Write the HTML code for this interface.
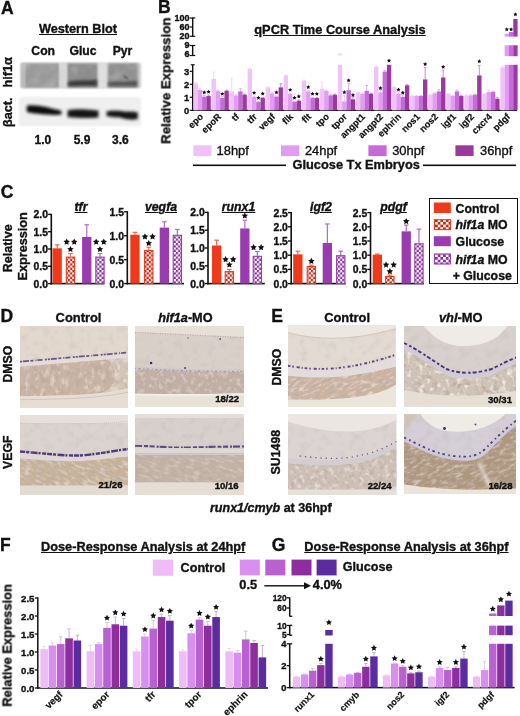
<!DOCTYPE html>
<html><head><meta charset="utf-8"><style>
html,body{margin:0;padding:0;background:#fff;}
body{width:520px;height:716px;position:relative;overflow:hidden;font-family:"Liberation Sans", sans-serif;}
.t{position:absolute;white-space:nowrap;line-height:1;color:#111;-webkit-text-stroke:0.35px #111;}
#wrap{position:absolute;left:0;top:0;width:520px;height:716px;will-change:transform;}
svg path[stroke]{fill:none;}
</style></head><body><div id="wrap">
<div class="t" style="left:1.00px;top:-0.40px;font-size:17.5px;font-weight:bold;font-style:normal;color:#111;">A</div>
<div class="t" style="left:-122.00px;width:400px;text-align:center;top:23.47px;font-size:12.7px;font-weight:bold;font-style:normal;color:#111;"><u>Western Blot</u></div>
<div class="t" style="left:-156.80px;width:400px;text-align:center;top:45.05px;font-size:12.2px;font-weight:bold;font-style:normal;color:#111;">Con</div>
<div class="t" style="left:-117.00px;width:400px;text-align:center;top:45.05px;font-size:12.2px;font-weight:bold;font-style:normal;color:#111;">Gluc</div>
<div class="t" style="left:-77.50px;width:400px;text-align:center;top:45.05px;font-size:12.2px;font-weight:bold;font-style:normal;color:#111;">Pyr</div>
<div class="t" style="left:-157.10px;width:400px;text-align:center;top:134.08px;font-size:12px;font-weight:bold;font-style:normal;color:#111;">1.0</div>
<div class="t" style="left:-118.00px;width:400px;text-align:center;top:134.08px;font-size:12px;font-weight:bold;font-style:normal;color:#111;">5.9</div>
<div class="t" style="left:-79.60px;width:400px;text-align:center;top:134.08px;font-size:12px;font-weight:bold;font-style:normal;color:#111;">3.6</div>
<div class="t" style="left:-192.38px;top:65.65px;width:400px;text-align:center;font-size:12.7px;font-weight:bold;color:#111;transform:rotate(-90deg);transform-origin:50% 50%;">hif1&alpha;</div>
<div class="t" style="left:-192.42px;top:106.20px;width:400px;text-align:center;font-size:12.6px;font-weight:bold;color:#111;transform:rotate(-90deg);transform-origin:50% 50%;">&beta;act.</div>
<svg style="position:absolute;left:0;top:0" width="160" height="135" viewBox="0 0 160 135">
<defs>
<filter id="b1" x="-20%" y="-50%" width="140%" height="200%"><feGaussianBlur stdDeviation="1.0"/></filter>
<filter id="b2" x="-20%" y="-80%" width="140%" height="260%"><feGaussianBlur stdDeviation="1.5"/></filter>
<filter id="n1" x="0" y="0" width="100%" height="100%"><feTurbulence type="fractalNoise" baseFrequency="0.1" numOctaves="2" seed="3"/><feColorMatrix type="matrix" values="0 0 0 0 0.45  0 0 0 0 0.45  0 0 0 0 0.45  2.0 0 0 0 -0.95"/><feComposite in2="SourceGraphic" operator="in"/><feGaussianBlur stdDeviation="1.0"/></filter>
<filter id="n2" x="0" y="0" width="100%" height="100%"><feTurbulence type="fractalNoise" baseFrequency="0.1" numOctaves="2" seed="9"/><feColorMatrix type="matrix" values="0 0 0 0 0.85  0 0 0 0 0.85  0 0 0 0 0.85  0 2.0 0 0 -0.95"/><feComposite in2="SourceGraphic" operator="in"/><feGaussianBlur stdDeviation="1.0"/></filter>
</defs>
<rect x="20.5" y="63" width="120.5" height="25" fill="#cacaca" filter="url(#b1)"/>
<rect x="24.5" y="63.3" width="34.5" height="24.4" fill="#9a9a9a" filter="url(#b1)"/>
<rect x="21" y="63.3" width="4" height="24.4" fill="#bababa" filter="url(#b1)"/>
<rect x="67.3" y="63.3" width="30.2" height="24.4" fill="#8c8c8c" filter="url(#b1)"/>
<rect x="107.6" y="63.3" width="30" height="24.4" fill="#909090" filter="url(#b1)"/>
<rect x="21" y="63.3" width="117" height="24.4" fill="#fff" filter="url(#n1)" opacity="0.45"/>
<rect x="59.6" y="63" width="7.2" height="25" fill="#d8d8d8" filter="url(#b1)"/>
<rect x="98.3" y="63" width="8.6" height="25" fill="#dedede" filter="url(#b1)"/>
<rect x="21" y="63.3" width="117" height="24.4" fill="#fff" filter="url(#n2)" opacity="0.3"/>
<path d="M68,82 C75,79.5 85,81 97,79.5 L97,86 L68,86 Z" fill="#383838" filter="url(#b2)"/>
<path d="M108,82.5 C115,81.5 125,82 137,81 L137,86 L108,86 Z" fill="#505050" filter="url(#b2)"/>
<path d="M123.5,75.5 L128,79" stroke="#333" stroke-width="1.4" filter="url(#b1)"/>
<rect x="19" y="97" width="122" height="29" fill="#efefef" filter="url(#b1)"/>
<path d="M27,105.5 C35,104.5 45,106.5 52,108.5 C56,109.5 60,110 61.5,111 L61.5,114.5 C55,115.5 45,114.5 35,113.5 C30,113 27.5,112.5 26.5,111 Z" fill="#111" filter="url(#b2)"/>
<path d="M67.5,110.5 C75,108.5 85,109.5 98.5,110.5 L98.5,117.5 C88,118.5 76,118 67.5,117 Z" fill="#141414" filter="url(#b2)"/>
<path d="M106.5,111.5 C112,110 118,110.5 125,111.5 C131,111.5 136,111.5 137.8,112.5 L137.8,119 C132,120.5 126,119.5 120,117.5 C114,117 109,117 106.5,116 Z" fill="#121212" filter="url(#b2)"/>
</svg>
<div class="t" style="left:158.00px;top:-0.60px;font-size:17.5px;font-weight:bold;font-style:normal;color:#111;">B</div>
<div class="t" style="left:140.00px;width:400px;text-align:center;top:23.85px;font-size:12.8px;font-weight:bold;font-style:normal;color:#111;"><u>qPCR Time Course Analysis</u></div>
<div class="t" style="left:-34.28px;top:74.35px;width:400px;text-align:center;font-size:13.3px;font-weight:bold;color:#111;transform:rotate(-90deg);transform-origin:50% 50%;">Relative Expression</div>
<div class="t" style="left:-210.70px;width:400px;text-align:right;top:105.90px;font-size:9.4px;font-weight:bold;font-style:normal;color:#111;">0</div>
<div class="t" style="left:-210.70px;width:400px;text-align:right;top:92.90px;font-size:9.4px;font-weight:bold;font-style:normal;color:#111;">1</div>
<div class="t" style="left:-210.70px;width:400px;text-align:right;top:79.90px;font-size:9.4px;font-weight:bold;font-style:normal;color:#111;">2</div>
<div class="t" style="left:-210.70px;width:400px;text-align:right;top:66.90px;font-size:9.4px;font-weight:bold;font-style:normal;color:#111;">3</div>
<div class="t" style="left:-210.60px;width:400px;text-align:right;top:41.26px;font-size:9px;font-weight:bold;font-style:normal;color:#111;">9</div>
<div class="t" style="left:-210.60px;width:400px;text-align:right;top:50.16px;font-size:9px;font-weight:bold;font-style:normal;color:#111;">6</div>
<div class="t" style="left:-210.60px;width:400px;text-align:right;top:13.56px;font-size:9px;font-weight:bold;font-style:normal;color:#111;">100</div>
<div class="t" style="left:-210.60px;width:400px;text-align:right;top:22.96px;font-size:9px;font-weight:bold;font-style:normal;color:#111;">60</div>
<div class="t" style="left:-210.60px;width:400px;text-align:right;top:32.16px;font-size:9px;font-weight:bold;font-style:normal;color:#111;">20</div>
<div class="t" style="left:101.90px;top:111.45px;width:100px;text-align:right;font-size:9.3px;font-weight:bold;font-style:normal;transform:rotate(-45deg);transform-origin:100% 50%;-webkit-text-stroke:0.2px #111;">epo</div>
<div class="t" style="left:119.95px;top:111.45px;width:100px;text-align:right;font-size:9.3px;font-weight:bold;font-style:normal;transform:rotate(-45deg);transform-origin:100% 50%;-webkit-text-stroke:0.2px #111;">epoR</div>
<div class="t" style="left:138.00px;top:111.45px;width:100px;text-align:right;font-size:9.3px;font-weight:bold;font-style:normal;transform:rotate(-45deg);transform-origin:100% 50%;-webkit-text-stroke:0.2px #111;">tf</div>
<div class="t" style="left:156.05px;top:111.45px;width:100px;text-align:right;font-size:9.3px;font-weight:bold;font-style:normal;transform:rotate(-45deg);transform-origin:100% 50%;-webkit-text-stroke:0.2px #111;">tfr</div>
<div class="t" style="left:174.10px;top:111.45px;width:100px;text-align:right;font-size:9.3px;font-weight:bold;font-style:normal;transform:rotate(-45deg);transform-origin:100% 50%;-webkit-text-stroke:0.2px #111;">vegf</div>
<div class="t" style="left:192.15px;top:111.45px;width:100px;text-align:right;font-size:9.3px;font-weight:bold;font-style:normal;transform:rotate(-45deg);transform-origin:100% 50%;-webkit-text-stroke:0.2px #111;">flk</div>
<div class="t" style="left:210.20px;top:111.45px;width:100px;text-align:right;font-size:9.3px;font-weight:bold;font-style:normal;transform:rotate(-45deg);transform-origin:100% 50%;-webkit-text-stroke:0.2px #111;">flt</div>
<div class="t" style="left:228.25px;top:111.45px;width:100px;text-align:right;font-size:9.3px;font-weight:bold;font-style:normal;transform:rotate(-45deg);transform-origin:100% 50%;-webkit-text-stroke:0.2px #111;">tpo</div>
<div class="t" style="left:246.30px;top:111.45px;width:100px;text-align:right;font-size:9.3px;font-weight:bold;font-style:normal;transform:rotate(-45deg);transform-origin:100% 50%;-webkit-text-stroke:0.2px #111;">tpor</div>
<div class="t" style="left:264.35px;top:111.45px;width:100px;text-align:right;font-size:9.3px;font-weight:bold;font-style:normal;transform:rotate(-45deg);transform-origin:100% 50%;-webkit-text-stroke:0.2px #111;">angpt1</div>
<div class="t" style="left:282.40px;top:111.45px;width:100px;text-align:right;font-size:9.3px;font-weight:bold;font-style:normal;transform:rotate(-45deg);transform-origin:100% 50%;-webkit-text-stroke:0.2px #111;">angpt2</div>
<div class="t" style="left:300.45px;top:111.45px;width:100px;text-align:right;font-size:9.3px;font-weight:bold;font-style:normal;transform:rotate(-45deg);transform-origin:100% 50%;-webkit-text-stroke:0.2px #111;">ephrin</div>
<div class="t" style="left:318.50px;top:111.45px;width:100px;text-align:right;font-size:9.3px;font-weight:bold;font-style:normal;transform:rotate(-45deg);transform-origin:100% 50%;-webkit-text-stroke:0.2px #111;">nos1</div>
<div class="t" style="left:336.55px;top:111.45px;width:100px;text-align:right;font-size:9.3px;font-weight:bold;font-style:normal;transform:rotate(-45deg);transform-origin:100% 50%;-webkit-text-stroke:0.2px #111;">nos2</div>
<div class="t" style="left:354.60px;top:111.45px;width:100px;text-align:right;font-size:9.3px;font-weight:bold;font-style:normal;transform:rotate(-45deg);transform-origin:100% 50%;-webkit-text-stroke:0.2px #111;">igf1</div>
<div class="t" style="left:372.65px;top:111.45px;width:100px;text-align:right;font-size:9.3px;font-weight:bold;font-style:normal;transform:rotate(-45deg);transform-origin:100% 50%;-webkit-text-stroke:0.2px #111;">igf2</div>
<div class="t" style="left:390.70px;top:111.45px;width:100px;text-align:right;font-size:9.3px;font-weight:bold;font-style:normal;transform:rotate(-45deg);transform-origin:100% 50%;-webkit-text-stroke:0.2px #111;">cxcr4</div>
<div class="t" style="left:408.75px;top:111.45px;width:100px;text-align:right;font-size:9.3px;font-weight:bold;font-style:normal;transform:rotate(-45deg);transform-origin:100% 50%;-webkit-text-stroke:0.2px #111;">pdgf</div>
<div class="t" style="left:216.60px;top:145.04px;font-size:12.9px;font-weight:normal;font-style:normal;color:#111;">18hpf</div>
<div class="t" style="left:304.90px;top:145.04px;font-size:12.9px;font-weight:normal;font-style:normal;color:#111;">24hpf</div>
<div class="t" style="left:392.20px;top:145.04px;font-size:12.9px;font-weight:normal;font-style:normal;color:#111;">30hpf</div>
<div class="t" style="left:480.00px;top:145.04px;font-size:12.9px;font-weight:normal;font-style:normal;color:#111;">36hpf</div>
<div class="t" style="left:156.20px;width:400px;text-align:center;top:159.45px;font-size:12.8px;font-weight:bold;font-style:normal;color:#111;">Glucose Tx Embryos</div>
<div class="t" style="left:0.70px;top:183.50px;font-size:17.5px;font-weight:bold;font-style:normal;color:#111;">C</div>
<div class="t" style="left:-191.75px;top:241.75px;width:400px;text-align:center;font-size:12.5px;font-weight:bold;color:#111;transform:rotate(-90deg);transform-origin:50% 50%;">Relative</div>
<div class="t" style="left:-176.88px;top:240.15px;width:400px;text-align:center;font-size:12.7px;font-weight:bold;color:#111;transform:rotate(-90deg);transform-origin:50% 50%;">Expression</div>
<div class="t" style="left:-352.00px;width:400px;text-align:right;top:279.54px;font-size:10.4px;font-weight:bold;font-style:normal;color:#111;">0.0</div>
<div class="t" style="left:-352.00px;width:400px;text-align:right;top:262.24px;font-size:10.4px;font-weight:bold;font-style:normal;color:#111;">0.5</div>
<div class="t" style="left:-352.00px;width:400px;text-align:right;top:244.94px;font-size:10.4px;font-weight:bold;font-style:normal;color:#111;">1.0</div>
<div class="t" style="left:-352.00px;width:400px;text-align:right;top:227.64px;font-size:10.4px;font-weight:bold;font-style:normal;color:#111;">1.5</div>
<div class="t" style="left:-352.00px;width:400px;text-align:right;top:210.34px;font-size:10.4px;font-weight:bold;font-style:normal;color:#111;">2.0</div>
<div class="t" style="left:-119.00px;width:400px;text-align:center;top:201.33px;font-size:12.3px;font-weight:bold;font-style:normal;color:#111;"><u><i>tfr</i></u></div>
<div class="t" style="left:-276.00px;width:400px;text-align:right;top:279.54px;font-size:10.4px;font-weight:bold;font-style:normal;color:#111;">0.0</div>
<div class="t" style="left:-276.00px;width:400px;text-align:right;top:255.59px;font-size:10.4px;font-weight:bold;font-style:normal;color:#111;">0.5</div>
<div class="t" style="left:-276.00px;width:400px;text-align:right;top:231.64px;font-size:10.4px;font-weight:bold;font-style:normal;color:#111;">1.0</div>
<div class="t" style="left:-276.00px;width:400px;text-align:right;top:207.69px;font-size:10.4px;font-weight:bold;font-style:normal;color:#111;">1.5</div>
<div class="t" style="left:-39.00px;width:400px;text-align:center;top:201.33px;font-size:12.3px;font-weight:bold;font-style:normal;color:#111;"><u><i>vegfa</i></u></div>
<div class="t" style="left:-195.30px;width:400px;text-align:right;top:279.54px;font-size:10.4px;font-weight:bold;font-style:normal;color:#111;">0.0</div>
<div class="t" style="left:-195.30px;width:400px;text-align:right;top:261.74px;font-size:10.4px;font-weight:bold;font-style:normal;color:#111;">0.5</div>
<div class="t" style="left:-195.30px;width:400px;text-align:right;top:243.94px;font-size:10.4px;font-weight:bold;font-style:normal;color:#111;">1.0</div>
<div class="t" style="left:-195.30px;width:400px;text-align:right;top:226.14px;font-size:10.4px;font-weight:bold;font-style:normal;color:#111;">1.5</div>
<div class="t" style="left:-195.30px;width:400px;text-align:right;top:208.34px;font-size:10.4px;font-weight:bold;font-style:normal;color:#111;">2.0</div>
<div class="t" style="left:38.50px;width:400px;text-align:center;top:201.33px;font-size:12.3px;font-weight:bold;font-style:normal;color:#111;"><u><i>runx1</i></u></div>
<div class="t" style="left:-112.10px;width:400px;text-align:right;top:279.54px;font-size:10.4px;font-weight:bold;font-style:normal;color:#111;">0.0</div>
<div class="t" style="left:-112.10px;width:400px;text-align:right;top:265.34px;font-size:10.4px;font-weight:bold;font-style:normal;color:#111;">0.5</div>
<div class="t" style="left:-112.10px;width:400px;text-align:right;top:251.14px;font-size:10.4px;font-weight:bold;font-style:normal;color:#111;">1.0</div>
<div class="t" style="left:-112.10px;width:400px;text-align:right;top:236.94px;font-size:10.4px;font-weight:bold;font-style:normal;color:#111;">1.5</div>
<div class="t" style="left:-112.10px;width:400px;text-align:right;top:222.74px;font-size:10.4px;font-weight:bold;font-style:normal;color:#111;">2.0</div>
<div class="t" style="left:-112.10px;width:400px;text-align:right;top:208.54px;font-size:10.4px;font-weight:bold;font-style:normal;color:#111;">2.5</div>
<div class="t" style="left:121.00px;width:400px;text-align:center;top:201.33px;font-size:12.3px;font-weight:bold;font-style:normal;color:#111;"><u><i>igf2</i></u></div>
<div class="t" style="left:-32.80px;width:400px;text-align:right;top:279.54px;font-size:10.4px;font-weight:bold;font-style:normal;color:#111;">0.0</div>
<div class="t" style="left:-32.80px;width:400px;text-align:right;top:265.34px;font-size:10.4px;font-weight:bold;font-style:normal;color:#111;">0.5</div>
<div class="t" style="left:-32.80px;width:400px;text-align:right;top:251.14px;font-size:10.4px;font-weight:bold;font-style:normal;color:#111;">1.0</div>
<div class="t" style="left:-32.80px;width:400px;text-align:right;top:236.94px;font-size:10.4px;font-weight:bold;font-style:normal;color:#111;">1.5</div>
<div class="t" style="left:-32.80px;width:400px;text-align:right;top:222.74px;font-size:10.4px;font-weight:bold;font-style:normal;color:#111;">2.0</div>
<div class="t" style="left:-32.80px;width:400px;text-align:right;top:208.54px;font-size:10.4px;font-weight:bold;font-style:normal;color:#111;">2.5</div>
<div class="t" style="left:193.50px;width:400px;text-align:center;top:201.33px;font-size:12.3px;font-weight:bold;font-style:normal;color:#111;"><u><i>pdgf</i></u></div>
<div style="position:absolute;left:428.70px;top:197.70px;width:89.30px;height:86.50px;background:transparent;box-sizing:border-box;border:1.6px solid #111;"></div>
<div class="t" style="left:455.60px;top:202.93px;font-size:12.3px;font-weight:bold;font-style:normal;color:#111;">Control</div>
<div class="t" style="left:455.60px;top:219.33px;font-size:12.3px;font-weight:bold;font-style:normal;color:#111;"><i>hif1a</i> MO</div>
<div class="t" style="left:455.60px;top:235.73px;font-size:12.3px;font-weight:bold;font-style:normal;color:#111;">Glucose</div>
<div class="t" style="left:455.60px;top:253.93px;font-size:12.3px;font-weight:bold;font-style:normal;color:#111;"><i>hif1a</i> MO</div>
<div class="t" style="left:452.70px;top:269.73px;font-size:12.3px;font-weight:bold;font-style:normal;color:#111;">+ Glucose</div>
<div class="t" style="left:0.60px;top:308.40px;font-size:17.5px;font-weight:bold;font-style:normal;color:#111;">D</div>
<div class="t" style="left:-121.50px;width:400px;text-align:center;top:312.24px;font-size:12.9px;font-weight:bold;font-style:normal;color:#111;">Control</div>
<div class="t" style="left:-14.60px;width:400px;text-align:center;top:312.27px;font-size:12.7px;font-weight:bold;font-style:normal;color:#111;"><i>hif1a</i>-MO</div>
<div class="t" style="left:-192.32px;top:357.85px;width:400px;text-align:center;font-size:12.3px;font-weight:bold;color:#111;transform:rotate(-90deg);transform-origin:50% 50%;">DMSO</div>
<div class="t" style="left:-192.32px;top:445.85px;width:400px;text-align:center;font-size:12.3px;font-weight:bold;color:#111;transform:rotate(-90deg);transform-origin:50% 50%;">VEGF</div>
<div class="t" style="left:271.20px;top:308.00px;font-size:17.5px;font-weight:bold;font-style:normal;color:#111;">E</div>
<div class="t" style="left:147.10px;width:400px;text-align:center;top:312.24px;font-size:12.9px;font-weight:bold;font-style:normal;color:#111;">Control</div>
<div class="t" style="left:260.80px;width:400px;text-align:center;top:312.24px;font-size:12.9px;font-weight:bold;font-style:normal;color:#111;"><i>vhl</i>-MO</div>
<div class="t" style="left:77.18px;top:360.85px;width:400px;text-align:center;font-size:12.3px;font-weight:bold;color:#111;transform:rotate(-90deg);transform-origin:50% 50%;">DMSO</div>
<div class="t" style="left:75.68px;top:445.85px;width:400px;text-align:center;font-size:12.3px;font-weight:bold;color:#111;transform:rotate(-90deg);transform-origin:50% 50%;">SU1498</div>
<div class="t" style="left:70.80px;width:400px;text-align:center;top:502.30px;font-size:12.5px;font-weight:bold;font-style:normal;color:#111;"><i>runx1/cmyb</i> at 36hpf</div>
<svg style="position:absolute;left:19.6px;top:325.8px" width="108" height="82" viewBox="19.6 325.8 108 82">
<defs>
<filter id="dk1" x="0" y="0" width="100%" height="100%"><feTurbulence type="fractalNoise" baseFrequency="0.2 0.14" numOctaves="3" seed="8" result="n"/><feColorMatrix in="n" type="matrix" values="0 0 0 0 0.50  0 0 0 0 0.41  0 0 0 0 0.36  3.6 0 0 0 -1.8" result="m"/><feComposite in="m" in2="SourceGraphic" operator="in"/><feGaussianBlur stdDeviation="0.55"/></filter>
<filter id="lt1" x="0" y="0" width="100%" height="100%"><feTurbulence type="fractalNoise" baseFrequency="0.2 0.14" numOctaves="3" seed="18" result="n"/><feColorMatrix in="n" type="matrix" values="0 0 0 0 0.95  0 0 0 0 0.92  0 0 0 0 0.88  0 3.6 0 0 -1.8" result="m"/><feComposite in="m" in2="SourceGraphic" operator="in"/><feGaussianBlur stdDeviation="0.55"/></filter>
<filter id="sf1" x="0" y="0" width="100%" height="100%"><feTurbulence type="fractalNoise" baseFrequency="0.12" numOctaves="2" seed="5" result="n"/><feColorMatrix in="n" type="matrix" values="0 0 0 0 0.5  0 0 0 0 0.45  0 0 0 0 0.42  0 0 2.5 0 -1.2" result="m"/><feComposite in="m" in2="SourceGraphic" operator="in"/></filter>
<filter id="bl1"><feGaussianBlur stdDeviation="0.7"/></filter>
<filter id="bb1"><feGaussianBlur stdDeviation="1.5"/></filter>
</defs>

<rect x="19.6" y="325.8" width="108" height="82" fill="#e2d8cd"/>
<path d="M19.6,325.8 h108 v82 h-108 Z" fill="#fff" opacity="0.3" filter="url(#sf1)"/>
<path d="M19.6,362 L127.6,353 L127.6,360 L19.6,369 Z" fill="#e4dcd8" filter="url(#bl1)"/>
<clipPath id="cp1"><path d="M98,360 L127.6,357.5 L127.6,388 C118,392 108,394 95,394.5 Z"/></clipPath><path d="M98,360 L127.6,357.5 L127.6,388 C118,392 108,394 95,394.5 Z" fill="#d4c5b8" filter="url(#bl1)"/><g clip-path="url(#cp1)"><g transform="rotate(0 260 400)"><rect x="-100" y="150" width="720" height="500" fill="#fff" opacity="0.7" filter="url(#dk1)"/><rect x="-100" y="150" width="720" height="500" fill="#fff" opacity="0.5" filter="url(#lt1)"/></g></g>
<clipPath id="cp2"><path d="M19.6,366.5 L104,359.5 C112,361 115,371 113,381 C111,389 102,393 90,394.5 L19.6,396 Z"/></clipPath><path d="M19.6,366.5 L104,359.5 C112,361 115,371 113,381 C111,389 102,393 90,394.5 L19.6,396 Z" fill="#c9b3a2" filter="url(#bl1)"/><g clip-path="url(#cp2)"><g transform="rotate(0 260 400)"><rect x="-100" y="150" width="720" height="500" fill="#fff" opacity="1.0" filter="url(#dk1)"/><rect x="-100" y="150" width="720" height="500" fill="#fff" opacity="0.4" filter="url(#lt1)"/></g></g>
<path d="M104,359.5 C112,361 115,371 113,381 C111,389 102,393 90,394.5" stroke="#b8a494" stroke-width="0.8" stroke-opacity="0.6" filter="url(#bl1)"/>
<path d="M19.6,396 C60,395.5 100,395 127.6,388 L127.6,407.8 L19.6,407.8 Z" fill="#e6ddd3" filter="url(#bl1)"/>
<path d="M19.6,399.5 C60,399 100,398 127.6,392" stroke="#d2c6ba" stroke-width="1" filter="url(#bl1)"/>
<path d="M19.6,361.5 L127.6,352.3" stroke="#553c82" stroke-width="1.8" stroke-opacity="0.85" stroke-dasharray="2 1 6 1.5 3 2 1 1 5 2.5 2 1"/>

</svg>
<svg style="position:absolute;left:134.9px;top:326px" width="109" height="81" viewBox="134.9 326 109 81">
<defs>
<filter id="dk2" x="0" y="0" width="100%" height="100%"><feTurbulence type="fractalNoise" baseFrequency="0.22 0.18" numOctaves="3" seed="15" result="n"/><feColorMatrix in="n" type="matrix" values="0 0 0 0 0.50  0 0 0 0 0.41  0 0 0 0 0.36  3.6 0 0 0 -1.8" result="m"/><feComposite in="m" in2="SourceGraphic" operator="in"/><feGaussianBlur stdDeviation="0.55"/></filter>
<filter id="lt2" x="0" y="0" width="100%" height="100%"><feTurbulence type="fractalNoise" baseFrequency="0.22 0.18" numOctaves="3" seed="31" result="n"/><feColorMatrix in="n" type="matrix" values="0 0 0 0 0.95  0 0 0 0 0.92  0 0 0 0 0.88  0 3.6 0 0 -1.8" result="m"/><feComposite in="m" in2="SourceGraphic" operator="in"/><feGaussianBlur stdDeviation="0.55"/></filter>
<filter id="sf2" x="0" y="0" width="100%" height="100%"><feTurbulence type="fractalNoise" baseFrequency="0.12" numOctaves="2" seed="8" result="n"/><feColorMatrix in="n" type="matrix" values="0 0 0 0 0.5  0 0 0 0 0.45  0 0 0 0 0.42  0 0 2.5 0 -1.2" result="m"/><feComposite in="m" in2="SourceGraphic" operator="in"/></filter>
<filter id="bl2"><feGaussianBlur stdDeviation="0.7"/></filter>
<filter id="bb2"><feGaussianBlur stdDeviation="1.5"/></filter>
</defs>

<rect x="134.9" y="326" width="109" height="81" fill="#d9d0c9"/>
<path d="M134.9,326 h109 v81 h-109 Z" fill="#fff" opacity="0.3" filter="url(#sf2)"/>
<path d="M134.9,326 L243.9,326 L243.9,337 C210,335.5 170,333.5 134.9,332 Z" fill="#e7e0d8" filter="url(#bl2)"/>
<path d="M134.9,332.5 C170,334 210,336 243.9,337.5" stroke="#b8aeaa" stroke-width="1.2" stroke-dasharray="1 1.5" filter="url(#bl2)"/>
<path d="M134.9,366 C170,369 210,370 243.9,369 L243.9,373 C210,374 170,373 134.9,370 Z" fill="#cfc8ca" filter="url(#bl2)"/>
<clipPath id="cp3"><path d="M134.9,369 C170,371 210,372 243.9,372 L243.9,393 C210,395 170,394 134.9,394 Z"/></clipPath><path d="M134.9,369 C170,371 210,372 243.9,372 L243.9,393 C210,395 170,394 134.9,394 Z" fill="#c2b0a7" filter="url(#bl2)"/><g clip-path="url(#cp3)"><g transform="rotate(0 260 400)"><rect x="-100" y="150" width="720" height="500" fill="#fff" opacity="1.0" filter="url(#dk2)"/><rect x="-100" y="150" width="720" height="500" fill="#fff" opacity="0.35" filter="url(#lt2)"/></g></g>
<path d="M134.9,394 C170,394 210,395 243.9,393 L243.9,407 L134.9,407 Z" fill="#e9e2d8" filter="url(#bl2)"/>
<path d="M134.9,394.5 C170,395 210,396 243.9,394" stroke="#f3eee6" stroke-width="2" filter="url(#bl2)"/>
<circle cx="151" cy="363" r="1.3" fill="#3a2a60"/><circle cx="185" cy="368" r="1.1" fill="#5a4a80"/>
<circle cx="220" cy="339" r="0.9" fill="#5a4a70"/><circle cx="188" cy="338" r="0.8" fill="#6a5a80"/>
<path d="M134.9,368.3 C170,370.5 210,371.5 243.9,371.5" stroke="#7a6c90" stroke-width="1" stroke-opacity="0.6" stroke-dasharray="1 2.5 2 3" filter="url(#bl2)"/>

</svg>
<svg style="position:absolute;left:20px;top:414.5px" width="108" height="80.5" viewBox="20 414.5 108 80.5">
<defs>
<filter id="dk3" x="0" y="0" width="100%" height="100%"><feTurbulence type="fractalNoise" baseFrequency="0.12 0.4" numOctaves="3" seed="22" result="n"/><feColorMatrix in="n" type="matrix" values="0 0 0 0 0.50  0 0 0 0 0.41  0 0 0 0 0.36  3.6 0 0 0 -1.8" result="m"/><feComposite in="m" in2="SourceGraphic" operator="in"/><feGaussianBlur stdDeviation="0.55"/></filter>
<filter id="lt3" x="0" y="0" width="100%" height="100%"><feTurbulence type="fractalNoise" baseFrequency="0.12 0.4" numOctaves="3" seed="44" result="n"/><feColorMatrix in="n" type="matrix" values="0 0 0 0 0.95  0 0 0 0 0.92  0 0 0 0 0.88  0 3.6 0 0 -1.8" result="m"/><feComposite in="m" in2="SourceGraphic" operator="in"/><feGaussianBlur stdDeviation="0.55"/></filter>
<filter id="sf3" x="0" y="0" width="100%" height="100%"><feTurbulence type="fractalNoise" baseFrequency="0.12" numOctaves="2" seed="11" result="n"/><feColorMatrix in="n" type="matrix" values="0 0 0 0 0.5  0 0 0 0 0.45  0 0 0 0 0.42  0 0 2.5 0 -1.2" result="m"/><feComposite in="m" in2="SourceGraphic" operator="in"/></filter>
<filter id="bl3"><feGaussianBlur stdDeviation="0.7"/></filter>
<filter id="bb3"><feGaussianBlur stdDeviation="1.5"/></filter>
</defs>

<rect x="20" y="414.5" width="108" height="80.5" fill="#dbd3cf"/>
<path d="M20,414.5 h108 v80.5 h-108 Z" fill="#fff" opacity="0.3" filter="url(#sf3)"/>
<rect x="20" y="414.5" width="108" height="8" fill="#e6e0da" filter="url(#bl3)"/>
<path d="M20,422.5 C60,424 100,423.5 128,421" stroke="#cbc3c2" stroke-width="1" stroke-dasharray="1 1" filter="url(#bl3)"/>
<path d="M20,452.5 C45,454.5 65,457 80,456.5 C100,455 115,451.5 128,450.5 L128,457 C110,458 95,460 70,461 C45,460 30,458.5 20,457.5 Z" fill="#e0d8d6" filter="url(#bl3)"/>
<clipPath id="cp4"><path d="M20,458 C45,460 70,462 90,460 C105,459 115,457 128,456 L128,485 L20,485.5 Z"/></clipPath><path d="M20,458 C45,460 70,462 90,460 C105,459 115,457 128,456 L128,485 L20,485.5 Z" fill="#c8b29a" filter="url(#bl3)"/><g clip-path="url(#cp4)"><g transform="rotate(28 260 400)"><rect x="-100" y="150" width="720" height="500" fill="#fff" opacity="1.0" filter="url(#dk3)"/><rect x="-100" y="150" width="720" height="500" fill="#fff" opacity="0.45" filter="url(#lt3)"/></g></g>
<rect x="20" y="485" width="108" height="10" fill="#e3dbd1" filter="url(#bl3)"/>
<path d="M20,451 C45,453 65,455.5 80,455 C100,453.5 115,450 128,448.5" stroke="#42286e" stroke-width="2.4" stroke-opacity="0.9" stroke-dasharray="5 1 3 1.5 7 1 2 1.5 4 1" filter="url(#bl3)"/>

</svg>
<svg style="position:absolute;left:134.9px;top:414.1px" width="109" height="80.5" viewBox="134.9 414.1 109 80.5">
<defs>
<filter id="dk4" x="0" y="0" width="100%" height="100%"><feTurbulence type="fractalNoise" baseFrequency="0.14 0.35" numOctaves="3" seed="29" result="n"/><feColorMatrix in="n" type="matrix" values="0 0 0 0 0.50  0 0 0 0 0.41  0 0 0 0 0.36  3.6 0 0 0 -1.8" result="m"/><feComposite in="m" in2="SourceGraphic" operator="in"/><feGaussianBlur stdDeviation="0.55"/></filter>
<filter id="lt4" x="0" y="0" width="100%" height="100%"><feTurbulence type="fractalNoise" baseFrequency="0.14 0.35" numOctaves="3" seed="57" result="n"/><feColorMatrix in="n" type="matrix" values="0 0 0 0 0.95  0 0 0 0 0.92  0 0 0 0 0.88  0 3.6 0 0 -1.8" result="m"/><feComposite in="m" in2="SourceGraphic" operator="in"/><feGaussianBlur stdDeviation="0.55"/></filter>
<filter id="sf4" x="0" y="0" width="100%" height="100%"><feTurbulence type="fractalNoise" baseFrequency="0.12" numOctaves="2" seed="14" result="n"/><feColorMatrix in="n" type="matrix" values="0 0 0 0 0.5  0 0 0 0 0.45  0 0 0 0 0.42  0 0 2.5 0 -1.2" result="m"/><feComposite in="m" in2="SourceGraphic" operator="in"/></filter>
<filter id="bl4"><feGaussianBlur stdDeviation="0.7"/></filter>
<filter id="bb4"><feGaussianBlur stdDeviation="1.5"/></filter>
</defs>

<rect x="134.9" y="414.1" width="109" height="80.5" fill="#d8d0cc"/>
<path d="M134.9,414.1 h109 v80.5 h-109 Z" fill="#fff" opacity="0.3" filter="url(#sf4)"/>
<rect x="134.9" y="414.1" width="109" height="4" fill="#e4ddd8" filter="url(#bl4)"/>
<path d="M134.9,448 L243.9,449 L243.9,455 L134.9,455 Z" fill="#dfd7d4" filter="url(#bl4)"/>
<path d="M134.9,454 L243.9,454" stroke="#b8aeb0" stroke-width="0.8"/>
<clipPath id="cp5"><path d="M134.9,455 L243.9,455 L243.9,482.5 L134.9,482.5 Z"/></clipPath><path d="M134.9,455 L243.9,455 L243.9,482.5 L134.9,482.5 Z" fill="#c3b2a6" filter="url(#bl4)"/><g clip-path="url(#cp5)"><g transform="rotate(15 260 400)"><rect x="-100" y="150" width="720" height="500" fill="#fff" opacity="1.0" filter="url(#dk4)"/><rect x="-100" y="150" width="720" height="500" fill="#fff" opacity="0.3" filter="url(#lt4)"/></g></g>
<rect x="134.9" y="482.5" width="109" height="12.5" fill="#e6ded4" filter="url(#bl4)"/>
<path d="M134.9,445.7 C160,446.5 175,448.5 195,447.5 C215,446.5 230,447 243.9,446.5" stroke="#4a2e78" stroke-width="2.1" stroke-opacity="0.85" stroke-dasharray="7 2 4 1.5 5 2 2 1" filter="url(#bl4)"/>

</svg>
<svg style="position:absolute;left:288.3px;top:325.3px" width="107.8" height="82" viewBox="288.3 325.3 107.8 82">
<defs>
<filter id="dk5" x="0" y="0" width="100%" height="100%"><feTurbulence type="fractalNoise" baseFrequency="0.12 0.4" numOctaves="3" seed="36" result="n"/><feColorMatrix in="n" type="matrix" values="0 0 0 0 0.50  0 0 0 0 0.41  0 0 0 0 0.36  3.6 0 0 0 -1.8" result="m"/><feComposite in="m" in2="SourceGraphic" operator="in"/><feGaussianBlur stdDeviation="0.55"/></filter>
<filter id="lt5" x="0" y="0" width="100%" height="100%"><feTurbulence type="fractalNoise" baseFrequency="0.12 0.4" numOctaves="3" seed="70" result="n"/><feColorMatrix in="n" type="matrix" values="0 0 0 0 0.95  0 0 0 0 0.92  0 0 0 0 0.88  0 3.6 0 0 -1.8" result="m"/><feComposite in="m" in2="SourceGraphic" operator="in"/><feGaussianBlur stdDeviation="0.55"/></filter>
<filter id="sf5" x="0" y="0" width="100%" height="100%"><feTurbulence type="fractalNoise" baseFrequency="0.12" numOctaves="2" seed="17" result="n"/><feColorMatrix in="n" type="matrix" values="0 0 0 0 0.5  0 0 0 0 0.45  0 0 0 0 0.42  0 0 2.5 0 -1.2" result="m"/><feComposite in="m" in2="SourceGraphic" operator="in"/></filter>
<filter id="bl5"><feGaussianBlur stdDeviation="0.7"/></filter>
<filter id="bb5"><feGaussianBlur stdDeviation="1.5"/></filter>
</defs>

<rect x="288.3" y="325.3" width="107.8" height="82" fill="#e3dad3"/>
<path d="M288.3,325.3 h107.8 v82 h-107.8 Z" fill="#fff" opacity="0.3" filter="url(#sf5)"/>
<path d="M288.3,333 C315,340 350,342 396.1,329 L396.1,325.3 L288.3,325.3 Z" fill="#ede7e1" filter="url(#bl5)"/>
<path d="M288.3,333 C315,340 350,342 396.1,329" stroke="#cfc6c0" stroke-width="1" filter="url(#bl5)"/>
<path d="M288.3,367 C315,372 345,373 396.1,357 L396.1,368 C345,381 315,380 288.3,377 Z" fill="#e2dcdc" filter="url(#bl5)"/>
<clipPath id="cp6"><path d="M288.3,376 C315,379 345,380 396.1,367 L396.1,385 C380,396 350,401 288.3,400 Z"/></clipPath><path d="M288.3,376 C315,379 345,380 396.1,367 L396.1,385 C380,396 350,401 288.3,400 Z" fill="#cdb4a2" filter="url(#bl5)"/><g clip-path="url(#cp6)"><g transform="rotate(-25 260 400)"><rect x="-100" y="150" width="720" height="500" fill="#fff" opacity="0.9" filter="url(#dk5)"/><rect x="-100" y="150" width="720" height="500" fill="#fff" opacity="0.55" filter="url(#lt5)"/></g></g>
<path d="M288.3,400 C350,401 380,396 396.1,385 L396.1,407.3 L288.3,407.3 Z" fill="#ece5db" filter="url(#bl5)"/>
<path d="M288.3,366 C315,371 345,372 396.1,355" stroke="#442a6e" stroke-width="1.9" stroke-opacity="0.85" stroke-dasharray="2.5 2 1.5 3 3 2 1 2" filter="url(#bl5)"/>

</svg>
<svg style="position:absolute;left:403.5px;top:326px" width="112.3" height="80.5" viewBox="403.5 326 112.3 80.5">
<defs>
<filter id="dk6" x="0" y="0" width="100%" height="100%"><feTurbulence type="fractalNoise" baseFrequency="0.16 0.16" numOctaves="3" seed="43" result="n"/><feColorMatrix in="n" type="matrix" values="0 0 0 0 0.50  0 0 0 0 0.41  0 0 0 0 0.36  3.6 0 0 0 -1.8" result="m"/><feComposite in="m" in2="SourceGraphic" operator="in"/><feGaussianBlur stdDeviation="0.55"/></filter>
<filter id="lt6" x="0" y="0" width="100%" height="100%"><feTurbulence type="fractalNoise" baseFrequency="0.16 0.16" numOctaves="3" seed="83" result="n"/><feColorMatrix in="n" type="matrix" values="0 0 0 0 0.95  0 0 0 0 0.92  0 0 0 0 0.88  0 3.6 0 0 -1.8" result="m"/><feComposite in="m" in2="SourceGraphic" operator="in"/><feGaussianBlur stdDeviation="0.55"/></filter>
<filter id="sf6" x="0" y="0" width="100%" height="100%"><feTurbulence type="fractalNoise" baseFrequency="0.12" numOctaves="2" seed="20" result="n"/><feColorMatrix in="n" type="matrix" values="0 0 0 0 0.5  0 0 0 0 0.45  0 0 0 0 0.42  0 0 2.5 0 -1.2" result="m"/><feComposite in="m" in2="SourceGraphic" operator="in"/></filter>
<filter id="bl6"><feGaussianBlur stdDeviation="0.7"/></filter>
<filter id="bb6"><feGaussianBlur stdDeviation="1.5"/></filter>
</defs>

<rect x="403.5" y="326" width="112.3" height="80.5" fill="#d8d0cc"/>
<path d="M403.5,326 h112.3 v80.5 h-112.3 Z" fill="#fff" opacity="0.3" filter="url(#sf6)"/>
<path d="M423,326 C432,336 440,343 455,345.5 C470,347.5 490,344 500,334 L507,326 Z" fill="#efebe6" filter="url(#bl6)"/>
<path d="M403.5,343 C415,348 428,358 446,369 C458,374 475,374 491,369 C500,365 508,360 515.8,357.5 L515.8,363 C508,365 500,370 491,374 C475,379 458,379 446,374 C428,363 415,353 403.5,349 Z" fill="#d2cad8" filter="url(#bl6)"/>
<clipPath id="cp7"><path d="M403.5,350 C415,354 428,364 446,375 C458,380 475,380 491,375 C500,371 508,366 515.8,364 L515.8,391 C480,397 440,398 403.5,390 Z"/></clipPath><path d="M403.5,350 C415,354 428,364 446,375 C458,380 475,380 491,375 C500,371 508,366 515.8,364 L515.8,391 C480,397 440,398 403.5,390 Z" fill="#cfc2b6" filter="url(#bl6)"/><g clip-path="url(#cp7)"><g transform="rotate(0 260 400)"><rect x="-100" y="150" width="720" height="500" fill="#fff" opacity="1.0" filter="url(#dk6)"/><rect x="-100" y="150" width="720" height="500" fill="#fff" opacity="0.75" filter="url(#lt6)"/></g></g>
<path d="M403.5,390 C440,398 480,397 515.8,391 L515.8,406.5 L403.5,406.5 Z" fill="#e6ddd3" filter="url(#bl6)"/>
<path d="M403.5,343 C415,348 428,358 446,369 C458,374 475,374 491,369 C500,365 508,360 515.8,357.5" stroke="#3c2468" stroke-width="1.9" stroke-opacity="0.9" stroke-dasharray="3.5 2.5 2.5 2 4 2" filter="url(#bl6)"/>

</svg>
<svg style="position:absolute;left:288.3px;top:413.5px" width="108.4" height="81" viewBox="288.3 413.5 108.4 81">
<defs>
<filter id="dk7" x="0" y="0" width="100%" height="100%"><feTurbulence type="fractalNoise" baseFrequency="0.2 0.18" numOctaves="3" seed="50" result="n"/><feColorMatrix in="n" type="matrix" values="0 0 0 0 0.50  0 0 0 0 0.41  0 0 0 0 0.36  3.6 0 0 0 -1.8" result="m"/><feComposite in="m" in2="SourceGraphic" operator="in"/><feGaussianBlur stdDeviation="0.55"/></filter>
<filter id="lt7" x="0" y="0" width="100%" height="100%"><feTurbulence type="fractalNoise" baseFrequency="0.2 0.18" numOctaves="3" seed="96" result="n"/><feColorMatrix in="n" type="matrix" values="0 0 0 0 0.95  0 0 0 0 0.92  0 0 0 0 0.88  0 3.6 0 0 -1.8" result="m"/><feComposite in="m" in2="SourceGraphic" operator="in"/><feGaussianBlur stdDeviation="0.55"/></filter>
<filter id="sf7" x="0" y="0" width="100%" height="100%"><feTurbulence type="fractalNoise" baseFrequency="0.12" numOctaves="2" seed="23" result="n"/><feColorMatrix in="n" type="matrix" values="0 0 0 0 0.5  0 0 0 0 0.45  0 0 0 0 0.42  0 0 2.5 0 -1.2" result="m"/><feComposite in="m" in2="SourceGraphic" operator="in"/></filter>
<filter id="bl7"><feGaussianBlur stdDeviation="0.7"/></filter>
<filter id="bb7"><feGaussianBlur stdDeviation="1.5"/></filter>
</defs>

<rect x="288.3" y="413.5" width="108.4" height="81" fill="#dbd4d3"/>
<path d="M288.3,413.5 h108.4 v81 h-108.4 Z" fill="#fff" opacity="0.3" filter="url(#sf7)"/>
<path d="M288.3,421 C310,428 330,431 350,431 C370,431 385,425 396.7,419 L396.7,413.5 L288.3,413.5 Z" fill="#ebe6e1" filter="url(#bl7)"/>
<path d="M288.3,458 C310,460 335,461 355,458 C375,455 385,448 396.7,442 L396.7,448 C385,454 375,461 355,464 C335,467 310,466 288.3,464 Z" fill="#d4cdcf" filter="url(#bl7)"/>
<clipPath id="cp8"><path d="M288.3,463 C310,465 335,466 355,463 C375,460 385,453 396.7,447 L396.7,486 C360,490 320,490 288.3,489 Z"/></clipPath><path d="M288.3,463 C310,465 335,466 355,463 C375,460 385,453 396.7,447 L396.7,486 C360,490 320,490 288.3,489 Z" fill="#cdbfb5" filter="url(#bl7)"/><g clip-path="url(#cp8)"><g transform="rotate(0 260 400)"><rect x="-100" y="150" width="720" height="500" fill="#fff" opacity="0.7" filter="url(#dk7)"/><rect x="-100" y="150" width="720" height="500" fill="#fff" opacity="0.5" filter="url(#lt7)"/></g></g>
<rect x="288.3" y="489" width="108.4" height="6" fill="#e6e0da" filter="url(#bl7)"/>
<path d="M300,455.5 C320,458 340,459 355,456 C375,453 385,447 396.7,441" stroke="#6a5890" stroke-width="1.3" stroke-dasharray="1.2 4" filter="url(#bl7)"/>

</svg>
<svg style="position:absolute;left:403.5px;top:413.5px" width="112.4" height="80" viewBox="403.5 413.5 112.4 80">
<defs>
<filter id="dk8" x="0" y="0" width="100%" height="100%"><feTurbulence type="fractalNoise" baseFrequency="0.12 0.35" numOctaves="3" seed="57" result="n"/><feColorMatrix in="n" type="matrix" values="0 0 0 0 0.50  0 0 0 0 0.41  0 0 0 0 0.36  3.6 0 0 0 -1.8" result="m"/><feComposite in="m" in2="SourceGraphic" operator="in"/><feGaussianBlur stdDeviation="0.55"/></filter>
<filter id="lt8" x="0" y="0" width="100%" height="100%"><feTurbulence type="fractalNoise" baseFrequency="0.12 0.35" numOctaves="3" seed="109" result="n"/><feColorMatrix in="n" type="matrix" values="0 0 0 0 0.95  0 0 0 0 0.92  0 0 0 0 0.88  0 3.6 0 0 -1.8" result="m"/><feComposite in="m" in2="SourceGraphic" operator="in"/><feGaussianBlur stdDeviation="0.55"/></filter>
<filter id="sf8" x="0" y="0" width="100%" height="100%"><feTurbulence type="fractalNoise" baseFrequency="0.12" numOctaves="2" seed="26" result="n"/><feColorMatrix in="n" type="matrix" values="0 0 0 0 0.5  0 0 0 0 0.45  0 0 0 0 0.42  0 0 2.5 0 -1.2" result="m"/><feComposite in="m" in2="SourceGraphic" operator="in"/></filter>
<filter id="bl8"><feGaussianBlur stdDeviation="0.7"/></filter>
<filter id="bb8"><feGaussianBlur stdDeviation="1.5"/></filter>
</defs>

<rect x="403.5" y="413.5" width="112.4" height="80" fill="#d4cfd6"/>
<path d="M403.5,413.5 h112.4 v80 h-112.4 Z" fill="#fff" opacity="0.3" filter="url(#sf8)"/>
<path d="M403.5,413.5 L418,413.5 C412,420 408,428 403.5,432 Z" fill="#cdc3bb" filter="url(#bb8)"/>
<path d="M420,413.5 C425,422 435,430 450,431 C470,432 490,428 505,413.5 Z" fill="#efebe7" filter="url(#bl8)"/>
<path d="M403.5,437 C415,442 430,452 450,455 C470,458 478,455 485,448 C495,438 505,428 515.9,420 L515.9,426 C505,434 495,444 487,453 C478,461 470,463 450,460 C430,457 415,447 403.5,442 Z" fill="#d0c9da" filter="url(#bl8)"/>
<clipPath id="cp9"><path d="M403.5,441 C415,446 430,456 450,459 C470,462 478,460 487,452 C495,443 505,433 515.9,425 L515.9,488 C480,490 440,490 403.5,484 Z"/></clipPath><path d="M403.5,441 C415,446 430,456 450,459 C470,462 478,460 487,452 C495,443 505,433 515.9,425 L515.9,488 C480,490 440,490 403.5,484 Z" fill="#ae977f" filter="url(#bl8)"/><g clip-path="url(#cp9)"><g transform="rotate(-20 260 400)"><rect x="-100" y="150" width="720" height="500" fill="#fff" opacity="0.9" filter="url(#dk8)"/><rect x="-100" y="150" width="720" height="500" fill="#fff" opacity="0.45" filter="url(#lt8)"/></g></g>
<path d="M478,462 C482,470 486,478 490,488" stroke="#e8e0d6" stroke-width="2.5" filter="url(#bb8)"/>
<path d="M403.5,484 C440,490 480,490 515.9,488 L515.9,493.5 L403.5,493.5 Z" fill="#ece4da" filter="url(#bl8)"/>
<path d="M403.5,437 C415,442 430,452 450,455 C470,458 478,455 485,448 C495,438 505,428 515.9,420" stroke="#3e2868" stroke-width="1.9" stroke-opacity="0.85" stroke-dasharray="2.5 3.5 1.5 3" filter="url(#bl8)"/>
<circle cx="444" cy="428" r="1.4" fill="#3a2a6a"/><circle cx="475" cy="424" r="1" fill="#5a4a80"/>

</svg>
<div class="t" style="left:-160.80px;width:400px;text-align:right;top:393.96px;font-size:9.6px;font-weight:bold;font-style:normal;color:#111;">18/22</div>
<div class="t" style="left:-277.50px;width:400px;text-align:right;top:479.96px;font-size:9.6px;font-weight:bold;font-style:normal;color:#111;">21/26</div>
<div class="t" style="left:-161.30px;width:400px;text-align:right;top:480.56px;font-size:9.6px;font-weight:bold;font-style:normal;color:#111;">10/16</div>
<div class="t" style="left:112.00px;width:400px;text-align:right;top:394.56px;font-size:9.6px;font-weight:bold;font-style:normal;color:#111;">30/31</div>
<div class="t" style="left:-8.30px;width:400px;text-align:right;top:481.36px;font-size:9.6px;font-weight:bold;font-style:normal;color:#111;">22/24</div>
<div class="t" style="left:112.50px;width:400px;text-align:right;top:480.96px;font-size:9.6px;font-weight:bold;font-style:normal;color:#111;">16/28</div>
<div class="t" style="left:0.00px;top:537.30px;font-size:17.5px;font-weight:bold;font-style:normal;color:#111;">F</div>
<div class="t" style="left:41.00px;top:541.06px;font-size:12.75px;font-weight:bold;font-style:normal;color:#111;"><u>Dose-Response Analysis at 24hpf</u></div>
<div class="t" style="left:271.80px;top:536.70px;font-size:17.5px;font-weight:bold;font-style:normal;color:#111;">G</div>
<div class="t" style="left:304.30px;top:541.06px;font-size:12.75px;font-weight:bold;font-style:normal;color:#111;"><u>Dose-Response Analysis at 36hpf</u></div>
<div class="t" style="left:180.60px;top:562.18px;font-size:12.6px;font-weight:bold;font-style:normal;color:#111;">Control</div>
<div class="t" style="left:342.80px;top:561.38px;font-size:12.6px;font-weight:bold;font-style:normal;color:#111;">Glucose</div>
<div class="t" style="left:239.30px;top:579.35px;font-size:12.8px;font-weight:bold;font-style:normal;color:#111;">0.5</div>
<div class="t" style="left:312.80px;top:579.35px;font-size:12.8px;font-weight:bold;font-style:normal;color:#111;">4.0%</div>
<svg style="position:absolute;left:300px;top:580px" width="14" height="12"><path d="M4,2.3 L11,5.8 L4,9.3 Z" fill="#111"/></svg>
<div class="t" style="left:-191.71px;top:638.55px;width:400px;text-align:center;font-size:12.9px;font-weight:bold;color:#111;transform:rotate(-90deg);transform-origin:50% 50%;">Relative Expression</div>
<div class="t" style="left:-365.60px;width:400px;text-align:right;top:684.06px;font-size:9.6px;font-weight:bold;font-style:normal;color:#111;">0.0</div>
<div class="t" style="left:-365.60px;width:400px;text-align:right;top:666.06px;font-size:9.6px;font-weight:bold;font-style:normal;color:#111;">0.5</div>
<div class="t" style="left:-365.60px;width:400px;text-align:right;top:648.06px;font-size:9.6px;font-weight:bold;font-style:normal;color:#111;">1.0</div>
<div class="t" style="left:-365.60px;width:400px;text-align:right;top:630.06px;font-size:9.6px;font-weight:bold;font-style:normal;color:#111;">1.5</div>
<div class="t" style="left:-365.60px;width:400px;text-align:right;top:612.06px;font-size:9.6px;font-weight:bold;font-style:normal;color:#111;">2.0</div>
<div class="t" style="left:-365.60px;width:400px;text-align:right;top:594.06px;font-size:9.6px;font-weight:bold;font-style:normal;color:#111;">2.5</div>
<div class="t" style="left:-38.75px;top:688.30px;width:100px;text-align:right;font-size:9.8px;font-weight:bold;font-style:normal;transform:rotate(-45deg);transform-origin:100% 50%;-webkit-text-stroke:0.2px #111;">vegf</div>
<div class="t" style="left:7.50px;top:688.30px;width:100px;text-align:right;font-size:9.8px;font-weight:bold;font-style:normal;transform:rotate(-45deg);transform-origin:100% 50%;-webkit-text-stroke:0.2px #111;">epor</div>
<div class="t" style="left:53.75px;top:688.30px;width:100px;text-align:right;font-size:9.8px;font-weight:bold;font-style:normal;transform:rotate(-45deg);transform-origin:100% 50%;-webkit-text-stroke:0.2px #111;">tfr</div>
<div class="t" style="left:100.00px;top:688.30px;width:100px;text-align:right;font-size:9.8px;font-weight:bold;font-style:normal;transform:rotate(-45deg);transform-origin:100% 50%;-webkit-text-stroke:0.2px #111;">tpor</div>
<div class="t" style="left:146.25px;top:688.30px;width:100px;text-align:right;font-size:9.8px;font-weight:bold;font-style:normal;transform:rotate(-45deg);transform-origin:100% 50%;-webkit-text-stroke:0.2px #111;">ephrin</div>
<div class="t" style="left:-113.50px;width:400px;text-align:right;top:683.00px;font-size:9.4px;font-weight:bold;font-style:normal;color:#111;">0</div>
<div class="t" style="left:-113.50px;width:400px;text-align:right;top:661.10px;font-size:9.4px;font-weight:bold;font-style:normal;color:#111;">2</div>
<div class="t" style="left:-113.50px;width:400px;text-align:right;top:639.20px;font-size:9.4px;font-weight:bold;font-style:normal;color:#111;">4</div>
<div class="t" style="left:-113.50px;width:400px;text-align:right;top:621.67px;font-size:8.3px;font-weight:bold;font-style:normal;color:#111;">10</div>
<div class="t" style="left:-113.50px;width:400px;text-align:right;top:630.67px;font-size:8.3px;font-weight:bold;font-style:normal;color:#111;">5</div>
<div class="t" style="left:-113.50px;width:400px;text-align:right;top:593.97px;font-size:8.3px;font-weight:bold;font-style:normal;color:#111;">120</div>
<div class="t" style="left:-113.50px;width:400px;text-align:right;top:604.17px;font-size:8.3px;font-weight:bold;font-style:normal;color:#111;">60</div>
<div class="t" style="left:212.95px;top:688.90px;width:100px;text-align:right;font-size:9.0px;font-weight:bold;font-style:normal;transform:rotate(-45deg);transform-origin:100% 50%;-webkit-text-stroke:0.2px #111;">runx1</div>
<div class="t" style="left:257.95px;top:688.90px;width:100px;text-align:right;font-size:9.0px;font-weight:bold;font-style:normal;transform:rotate(-45deg);transform-origin:100% 50%;-webkit-text-stroke:0.2px #111;">cmyb</div>
<div class="t" style="left:302.95px;top:688.90px;width:100px;text-align:right;font-size:9.0px;font-weight:bold;font-style:normal;transform:rotate(-45deg);transform-origin:100% 50%;-webkit-text-stroke:0.2px #111;">nos2</div>
<div class="t" style="left:347.95px;top:688.90px;width:100px;text-align:right;font-size:9.0px;font-weight:bold;font-style:normal;transform:rotate(-45deg);transform-origin:100% 50%;-webkit-text-stroke:0.2px #111;">igf2</div>
<div class="t" style="left:392.95px;top:688.90px;width:100px;text-align:right;font-size:9.0px;font-weight:bold;font-style:normal;transform:rotate(-45deg);transform-origin:100% 50%;-webkit-text-stroke:0.2px #111;">pdgf</div>
<svg style="position:absolute;left:0;top:0" width="520" height="716" shape-rendering="geometricPrecision"><defs><pattern id="chkR" x="0.3" y="0" width="4.5" height="4.5" patternUnits="userSpaceOnUse"><rect width="4.5" height="4.5" fill="#fff"/><rect width="2.25" height="2.25" fill="#c22412"/><rect x="2.25" y="2.25" width="2.25" height="2.25" fill="#c22412"/></pattern><pattern id="chkP" x="0.3" y="0" width="4.5" height="4.5" patternUnits="userSpaceOnUse"><rect width="4.5" height="4.5" fill="#fff"/><rect width="2.25" height="2.25" fill="#88309e"/><rect x="2.25" y="2.25" width="2.25" height="2.25" fill="#88309e"/></pattern><pattern id="chkR2" x="0.3" y="0.5" width="5.4" height="5.4" patternUnits="userSpaceOnUse"><rect width="5.4" height="5.4" fill="#fff"/><rect width="2.7" height="2.7" fill="#c22412"/><rect x="2.7" y="2.7" width="2.7" height="2.7" fill="#c22412"/></pattern><pattern id="chkP2" x="0.3" y="0.5" width="5.4" height="5.4" patternUnits="userSpaceOnUse"><rect width="5.4" height="5.4" fill="#fff"/><rect width="2.7" height="2.7" fill="#88309e"/><rect x="2.7" y="2.7" width="2.7" height="2.7" fill="#88309e"/></pattern></defs><rect x="192.00" y="64.80" width="1.40" height="46.20" fill="#111"/><rect x="192.00" y="109.60" width="325.00" height="1.40" fill="#111"/><rect x="192.00" y="45.00" width="1.40" height="11.00" fill="#111"/><rect x="192.00" y="17.50" width="1.40" height="19.30" fill="#111"/><rect x="189.70" y="109.70" width="3.00" height="1.20" fill="#111"/><rect x="189.70" y="96.70" width="3.00" height="1.20" fill="#111"/><rect x="189.70" y="83.70" width="3.00" height="1.20" fill="#111"/><rect x="189.70" y="70.70" width="3.00" height="1.20" fill="#111"/><rect x="189.70" y="44.90" width="3.00" height="1.20" fill="#111"/><rect x="189.70" y="54.90" width="3.00" height="1.20" fill="#111"/><rect x="189.70" y="17.40" width="3.00" height="1.20" fill="#111"/><rect x="189.70" y="26.40" width="3.00" height="1.20" fill="#111"/><rect x="189.70" y="35.70" width="3.00" height="1.20" fill="#111"/><rect x="190.70" y="64.20" width="4.00" height="1.20" fill="#111"/><rect x="192.70" y="44.90" width="2.50" height="1.20" fill="#111"/><rect x="192.70" y="54.90" width="2.50" height="1.20" fill="#111"/><rect x="192.70" y="17.40" width="2.50" height="1.20" fill="#111"/><rect x="192.70" y="35.70" width="2.50" height="1.20" fill="#111"/><rect x="195.15" y="82.08" width="1.00" height="1.33" fill="#f4d4f8"/><rect x="194.35" y="81.63" width="2.60" height="0.90" fill="#f4d4f8"/><rect x="193.50" y="83.40" width="4.35" height="26.90" fill="#f0c2f8"/><rect x="199.45" y="88.72" width="1.00" height="1.34" fill="#ecc0f6"/><rect x="198.65" y="88.27" width="2.60" height="0.90" fill="#ecc0f6"/><rect x="197.80" y="90.06" width="4.35" height="20.24" fill="#e29cf2"/><rect x="203.75" y="95.38" width="1.00" height="1.33" fill="#dcaae8"/><rect x="202.95" y="94.93" width="2.60" height="0.90" fill="#dcaae8"/><rect x="202.10" y="96.70" width="4.35" height="13.60" fill="#c56ad8"/><rect x="208.05" y="95.10" width="1.00" height="0.94" fill="#c890cc"/><rect x="207.25" y="94.65" width="2.60" height="0.90" fill="#c890cc"/><rect x="206.40" y="96.04" width="4.35" height="14.26" fill="#9b3a9e"/><rect x="213.20" y="72.09" width="1.00" height="6.66" fill="#f4d4f8"/><rect x="212.40" y="71.64" width="2.60" height="0.90" fill="#f4d4f8"/><rect x="211.55" y="78.75" width="4.35" height="31.55" fill="#f0c2f8"/><rect x="217.50" y="90.06" width="1.00" height="0.66" fill="#ecc0f6"/><rect x="216.70" y="89.61" width="2.60" height="0.90" fill="#ecc0f6"/><rect x="215.85" y="90.72" width="4.35" height="19.58" fill="#e29cf2"/><rect x="221.80" y="96.70" width="1.00" height="1.33" fill="#dcaae8"/><rect x="221.00" y="96.25" width="2.60" height="0.90" fill="#dcaae8"/><rect x="220.15" y="98.03" width="4.35" height="12.27" fill="#c56ad8"/><rect x="226.10" y="90.06" width="1.00" height="0.66" fill="#c890cc"/><rect x="225.30" y="89.61" width="2.60" height="0.90" fill="#c890cc"/><rect x="224.45" y="90.72" width="4.35" height="19.58" fill="#9b3a9e"/><rect x="231.25" y="78.09" width="1.00" height="13.30" fill="#f4d4f8"/><rect x="230.45" y="77.64" width="2.60" height="0.90" fill="#f4d4f8"/><rect x="229.60" y="91.38" width="4.35" height="18.92" fill="#f0c2f8"/><rect x="235.55" y="94.71" width="1.00" height="0.66" fill="#ecc0f6"/><rect x="234.75" y="94.26" width="2.60" height="0.90" fill="#ecc0f6"/><rect x="233.90" y="95.38" width="4.35" height="14.92" fill="#e29cf2"/><rect x="239.85" y="88.72" width="1.00" height="2.66" fill="#dcaae8"/><rect x="239.05" y="88.27" width="2.60" height="0.90" fill="#dcaae8"/><rect x="238.20" y="91.38" width="4.35" height="18.92" fill="#c56ad8"/><rect x="244.15" y="94.04" width="1.00" height="0.68" fill="#c890cc"/><rect x="243.35" y="93.59" width="2.60" height="0.90" fill="#c890cc"/><rect x="242.50" y="94.71" width="4.35" height="15.59" fill="#9b3a9e"/><rect x="249.30" y="68.05" width="1.00" height="1.04" fill="#f4d4f8"/><rect x="248.50" y="67.60" width="2.60" height="0.90" fill="#f4d4f8"/><rect x="247.65" y="69.09" width="4.35" height="41.21" fill="#f0c2f8"/><rect x="253.60" y="96.52" width="1.00" height="0.52" fill="#ecc0f6"/><rect x="252.80" y="96.07" width="2.60" height="0.90" fill="#ecc0f6"/><rect x="251.95" y="97.04" width="4.35" height="13.26" fill="#e29cf2"/><rect x="257.90" y="101.46" width="1.00" height="0.65" fill="#dcaae8"/><rect x="257.10" y="101.01" width="2.60" height="0.90" fill="#dcaae8"/><rect x="256.25" y="102.11" width="4.35" height="8.19" fill="#c56ad8"/><rect x="262.20" y="97.30" width="1.00" height="0.52" fill="#c890cc"/><rect x="261.40" y="96.85" width="2.60" height="0.90" fill="#c890cc"/><rect x="260.55" y="97.82" width="4.35" height="12.48" fill="#9b3a9e"/><rect x="267.35" y="86.73" width="1.00" height="0.66" fill="#f4d4f8"/><rect x="266.55" y="86.28" width="2.60" height="0.90" fill="#f4d4f8"/><rect x="265.70" y="87.39" width="4.35" height="22.91" fill="#f0c2f8"/><rect x="271.65" y="92.71" width="1.00" height="0.66" fill="#ecc0f6"/><rect x="270.85" y="92.26" width="2.60" height="0.90" fill="#ecc0f6"/><rect x="270.00" y="93.37" width="4.35" height="16.93" fill="#e29cf2"/><rect x="275.95" y="96.04" width="1.00" height="0.66" fill="#dcaae8"/><rect x="275.15" y="95.59" width="2.60" height="0.90" fill="#dcaae8"/><rect x="274.30" y="96.70" width="4.35" height="13.60" fill="#c56ad8"/><rect x="280.25" y="83.40" width="1.00" height="3.99" fill="#c890cc"/><rect x="279.45" y="82.95" width="2.60" height="0.90" fill="#c890cc"/><rect x="278.60" y="87.39" width="4.35" height="22.91" fill="#9b3a9e"/><rect x="285.40" y="74.76" width="1.00" height="0.66" fill="#f4d4f8"/><rect x="284.60" y="74.31" width="2.60" height="0.90" fill="#f4d4f8"/><rect x="283.75" y="75.42" width="4.35" height="34.88" fill="#f0c2f8"/><rect x="289.70" y="93.37" width="1.00" height="0.66" fill="#ecc0f6"/><rect x="288.90" y="92.92" width="2.60" height="0.90" fill="#ecc0f6"/><rect x="288.05" y="94.04" width="4.35" height="16.26" fill="#e29cf2"/><rect x="294.00" y="101.36" width="1.00" height="0.66" fill="#dcaae8"/><rect x="293.20" y="100.91" width="2.60" height="0.90" fill="#dcaae8"/><rect x="292.35" y="102.02" width="4.35" height="8.28" fill="#c56ad8"/><rect x="298.30" y="100.03" width="1.00" height="0.66" fill="#c890cc"/><rect x="297.50" y="99.58" width="2.60" height="0.90" fill="#c890cc"/><rect x="296.65" y="100.69" width="4.35" height="9.61" fill="#9b3a9e"/><rect x="303.45" y="80.07" width="1.00" height="0.66" fill="#f4d4f8"/><rect x="302.65" y="79.62" width="2.60" height="0.90" fill="#f4d4f8"/><rect x="301.80" y="80.74" width="4.35" height="29.56" fill="#f0c2f8"/><rect x="307.75" y="90.72" width="1.00" height="0.66" fill="#ecc0f6"/><rect x="306.95" y="90.27" width="2.60" height="0.90" fill="#ecc0f6"/><rect x="306.10" y="91.38" width="4.35" height="18.92" fill="#e29cf2"/><rect x="312.05" y="97.36" width="1.00" height="0.66" fill="#dcaae8"/><rect x="311.25" y="96.91" width="2.60" height="0.90" fill="#dcaae8"/><rect x="310.40" y="98.03" width="4.35" height="12.27" fill="#c56ad8"/><rect x="316.35" y="97.36" width="1.00" height="0.66" fill="#c890cc"/><rect x="315.55" y="96.91" width="2.60" height="0.90" fill="#c890cc"/><rect x="314.70" y="98.03" width="4.35" height="12.27" fill="#9b3a9e"/><rect x="321.50" y="82.08" width="1.00" height="6.64" fill="#f4d4f8"/><rect x="320.70" y="81.63" width="2.60" height="0.90" fill="#f4d4f8"/><rect x="319.85" y="88.72" width="4.35" height="21.58" fill="#f0c2f8"/><rect x="325.80" y="90.06" width="1.00" height="0.66" fill="#ecc0f6"/><rect x="325.00" y="89.61" width="2.60" height="0.90" fill="#ecc0f6"/><rect x="324.15" y="90.72" width="4.35" height="19.58" fill="#e29cf2"/><rect x="330.10" y="94.71" width="1.00" height="0.66" fill="#dcaae8"/><rect x="329.30" y="94.26" width="2.60" height="0.90" fill="#dcaae8"/><rect x="328.45" y="95.38" width="4.35" height="14.92" fill="#c56ad8"/><rect x="334.40" y="94.04" width="1.00" height="0.68" fill="#c890cc"/><rect x="333.60" y="93.59" width="2.60" height="0.90" fill="#c890cc"/><rect x="332.75" y="94.71" width="4.35" height="15.59" fill="#9b3a9e"/><rect x="337.90" y="64.80" width="4.35" height="45.50" fill="#f0c2f8"/><rect x="343.85" y="95.48" width="1.00" height="5.98" fill="#ecc0f6"/><rect x="343.05" y="95.03" width="2.60" height="0.90" fill="#ecc0f6"/><rect x="342.20" y="101.46" width="4.35" height="8.84" fill="#e29cf2"/><rect x="348.15" y="83.65" width="1.00" height="6.50" fill="#dcaae8"/><rect x="347.35" y="83.20" width="2.60" height="0.90" fill="#dcaae8"/><rect x="346.50" y="90.15" width="4.35" height="20.15" fill="#c56ad8"/><rect x="352.45" y="96.78" width="1.00" height="2.47" fill="#c890cc"/><rect x="351.65" y="96.33" width="2.60" height="0.90" fill="#c890cc"/><rect x="350.80" y="99.25" width="4.35" height="11.05" fill="#9b3a9e"/><rect x="357.60" y="91.84" width="1.00" height="0.52" fill="#f4d4f8"/><rect x="356.80" y="91.39" width="2.60" height="0.90" fill="#f4d4f8"/><rect x="355.95" y="92.36" width="4.35" height="17.94" fill="#f0c2f8"/><rect x="361.90" y="93.14" width="1.00" height="0.65" fill="#ecc0f6"/><rect x="361.10" y="92.69" width="2.60" height="0.90" fill="#ecc0f6"/><rect x="360.25" y="93.79" width="4.35" height="16.51" fill="#e29cf2"/><rect x="366.20" y="85.60" width="1.00" height="5.20" fill="#dcaae8"/><rect x="365.40" y="85.15" width="2.60" height="0.90" fill="#dcaae8"/><rect x="364.55" y="90.80" width="4.35" height="19.50" fill="#c56ad8"/><rect x="370.50" y="93.14" width="1.00" height="0.65" fill="#c890cc"/><rect x="369.70" y="92.69" width="2.60" height="0.90" fill="#c890cc"/><rect x="368.85" y="93.79" width="4.35" height="16.51" fill="#9b3a9e"/><rect x="375.65" y="66.10" width="1.00" height="0.78" fill="#f4d4f8"/><rect x="374.85" y="65.65" width="2.60" height="0.90" fill="#f4d4f8"/><rect x="374.00" y="66.88" width="4.35" height="43.42" fill="#f0c2f8"/><rect x="379.95" y="90.15" width="1.00" height="2.21" fill="#ecc0f6"/><rect x="379.15" y="89.70" width="2.60" height="0.90" fill="#ecc0f6"/><rect x="378.30" y="92.36" width="4.35" height="17.94" fill="#e29cf2"/><rect x="384.25" y="70.65" width="1.00" height="0.91" fill="#dcaae8"/><rect x="383.45" y="70.20" width="2.60" height="0.90" fill="#dcaae8"/><rect x="382.60" y="71.56" width="4.35" height="38.74" fill="#c56ad8"/><rect x="386.90" y="64.80" width="4.35" height="45.50" fill="#9b3a9e"/><rect x="393.70" y="86.51" width="1.00" height="0.65" fill="#f4d4f8"/><rect x="392.90" y="86.06" width="2.60" height="0.90" fill="#f4d4f8"/><rect x="392.05" y="87.16" width="4.35" height="23.14" fill="#f0c2f8"/><rect x="398.00" y="91.45" width="1.00" height="2.34" fill="#ecc0f6"/><rect x="397.20" y="91.00" width="2.60" height="0.90" fill="#ecc0f6"/><rect x="396.35" y="93.79" width="4.35" height="16.51" fill="#e29cf2"/><rect x="402.30" y="94.70" width="1.00" height="2.21" fill="#dcaae8"/><rect x="401.50" y="94.25" width="2.60" height="0.90" fill="#dcaae8"/><rect x="400.65" y="96.91" width="4.35" height="13.39" fill="#c56ad8"/><rect x="406.60" y="84.69" width="1.00" height="0.65" fill="#c890cc"/><rect x="405.80" y="84.24" width="2.60" height="0.90" fill="#c890cc"/><rect x="404.95" y="85.34" width="4.35" height="24.96" fill="#9b3a9e"/><rect x="411.75" y="95.38" width="1.00" height="0.66" fill="#f4d4f8"/><rect x="410.95" y="94.93" width="2.60" height="0.90" fill="#f4d4f8"/><rect x="410.10" y="96.04" width="4.35" height="14.26" fill="#f0c2f8"/><rect x="416.05" y="95.38" width="1.00" height="0.66" fill="#ecc0f6"/><rect x="415.25" y="94.93" width="2.60" height="0.90" fill="#ecc0f6"/><rect x="414.40" y="96.04" width="4.35" height="14.26" fill="#e29cf2"/><rect x="420.35" y="95.38" width="1.00" height="0.66" fill="#dcaae8"/><rect x="419.55" y="94.93" width="2.60" height="0.90" fill="#dcaae8"/><rect x="418.70" y="96.04" width="4.35" height="14.26" fill="#c56ad8"/><rect x="424.65" y="67.44" width="1.00" height="11.97" fill="#c890cc"/><rect x="423.85" y="66.99" width="2.60" height="0.90" fill="#c890cc"/><rect x="423.00" y="79.41" width="4.35" height="30.89" fill="#9b3a9e"/><rect x="429.80" y="94.04" width="1.00" height="0.68" fill="#f4d4f8"/><rect x="429.00" y="93.59" width="2.60" height="0.90" fill="#f4d4f8"/><rect x="428.15" y="94.71" width="4.35" height="15.59" fill="#f0c2f8"/><rect x="434.10" y="92.71" width="1.00" height="0.66" fill="#ecc0f6"/><rect x="433.30" y="92.26" width="2.60" height="0.90" fill="#ecc0f6"/><rect x="432.45" y="93.37" width="4.35" height="16.93" fill="#e29cf2"/><rect x="438.40" y="89.38" width="1.00" height="2.00" fill="#dcaae8"/><rect x="437.60" y="88.93" width="2.60" height="0.90" fill="#dcaae8"/><rect x="436.75" y="91.38" width="4.35" height="18.92" fill="#c56ad8"/><rect x="442.70" y="70.10" width="1.00" height="7.32" fill="#c890cc"/><rect x="441.90" y="69.65" width="2.60" height="0.90" fill="#c890cc"/><rect x="441.05" y="77.42" width="4.35" height="32.88" fill="#9b3a9e"/><rect x="447.85" y="93.37" width="1.00" height="0.66" fill="#f4d4f8"/><rect x="447.05" y="92.92" width="2.60" height="0.90" fill="#f4d4f8"/><rect x="446.20" y="94.04" width="4.35" height="16.26" fill="#f0c2f8"/><rect x="452.15" y="95.38" width="1.00" height="0.66" fill="#ecc0f6"/><rect x="451.35" y="94.93" width="2.60" height="0.90" fill="#ecc0f6"/><rect x="450.50" y="96.04" width="4.35" height="14.26" fill="#e29cf2"/><rect x="456.45" y="90.06" width="1.00" height="1.33" fill="#dcaae8"/><rect x="455.65" y="89.61" width="2.60" height="0.90" fill="#dcaae8"/><rect x="454.80" y="91.38" width="4.35" height="18.92" fill="#c56ad8"/><rect x="460.75" y="95.38" width="1.00" height="0.66" fill="#c890cc"/><rect x="459.95" y="94.93" width="2.60" height="0.90" fill="#c890cc"/><rect x="459.10" y="96.04" width="4.35" height="14.26" fill="#9b3a9e"/><rect x="465.90" y="94.71" width="1.00" height="0.66" fill="#f4d4f8"/><rect x="465.10" y="94.26" width="2.60" height="0.90" fill="#f4d4f8"/><rect x="464.25" y="95.38" width="4.35" height="14.92" fill="#f0c2f8"/><rect x="470.20" y="94.71" width="1.00" height="0.66" fill="#ecc0f6"/><rect x="469.40" y="94.26" width="2.60" height="0.90" fill="#ecc0f6"/><rect x="468.55" y="95.38" width="4.35" height="14.92" fill="#e29cf2"/><rect x="474.50" y="94.04" width="1.00" height="0.68" fill="#dcaae8"/><rect x="473.70" y="93.59" width="2.60" height="0.90" fill="#dcaae8"/><rect x="472.85" y="94.71" width="4.35" height="15.59" fill="#c56ad8"/><rect x="478.80" y="65.45" width="1.00" height="9.97" fill="#c890cc"/><rect x="478.00" y="65.00" width="2.60" height="0.90" fill="#c890cc"/><rect x="477.15" y="75.42" width="4.35" height="34.88" fill="#9b3a9e"/><rect x="483.95" y="93.37" width="1.00" height="0.66" fill="#f4d4f8"/><rect x="483.15" y="92.92" width="2.60" height="0.90" fill="#f4d4f8"/><rect x="482.30" y="94.04" width="4.35" height="16.26" fill="#f0c2f8"/><rect x="488.25" y="90.06" width="1.00" height="1.99" fill="#ecc0f6"/><rect x="487.45" y="89.61" width="2.60" height="0.90" fill="#ecc0f6"/><rect x="486.60" y="92.05" width="4.35" height="18.25" fill="#e29cf2"/><rect x="492.55" y="91.38" width="1.00" height="0.66" fill="#dcaae8"/><rect x="491.75" y="90.93" width="2.60" height="0.90" fill="#dcaae8"/><rect x="490.90" y="92.05" width="4.35" height="18.25" fill="#c56ad8"/><rect x="496.85" y="97.36" width="1.00" height="1.33" fill="#c890cc"/><rect x="496.05" y="96.91" width="2.60" height="0.90" fill="#c890cc"/><rect x="495.20" y="98.69" width="4.35" height="11.61" fill="#9b3a9e"/><rect x="502.00" y="66.11" width="1.00" height="1.33" fill="#f4d4f8"/><rect x="501.20" y="65.66" width="2.60" height="0.90" fill="#f4d4f8"/><rect x="500.35" y="67.44" width="4.35" height="42.86" fill="#f0c2f8"/><rect x="504.65" y="64.80" width="4.35" height="45.50" fill="#e29cf2"/><rect x="508.95" y="64.80" width="4.35" height="45.50" fill="#c56ad8"/><rect x="513.25" y="64.80" width="4.35" height="45.50" fill="#9b3a9e"/><rect x="504.65" y="45.30" width="4.35" height="10.90" fill="#e29cf2"/><rect x="508.95" y="45.30" width="4.35" height="10.90" fill="#c56ad8"/><rect x="513.25" y="45.30" width="4.35" height="10.90" fill="#9b3a9e"/><rect x="504.65" y="33.70" width="4.35" height="2.90" fill="#e29cf2"/><rect x="508.95" y="32.00" width="4.35" height="4.60" fill="#c56ad8"/><rect x="513.25" y="19.00" width="4.35" height="17.60" fill="#9b3a9e"/><rect x="337.90" y="53.50" width="4.30" height="2.00" fill="#f4d4f8"/><rect x="193.30" y="145.30" width="18.20" height="10.80" fill="#f0c2f8"/><rect x="281.00" y="145.30" width="18.20" height="10.80" fill="#e29cf2"/><rect x="368.40" y="145.30" width="18.20" height="10.80" fill="#c56ad8"/><rect x="455.40" y="145.30" width="18.20" height="10.80" fill="#9b3a9e"/><rect x="193.00" y="164.50" width="93.00" height="1.60" fill="#111"/><rect x="423.00" y="164.50" width="93.00" height="1.60" fill="#111"/><rect x="50.50" y="213.80" width="1.60" height="70.60" fill="#111"/><rect x="50.50" y="282.80" width="53.80" height="1.60" fill="#111"/><rect x="48.10" y="282.90" width="3.20" height="1.40" fill="#111"/><rect x="48.10" y="265.60" width="3.20" height="1.40" fill="#111"/><rect x="48.10" y="248.30" width="3.20" height="1.40" fill="#111"/><rect x="48.10" y="231.00" width="3.20" height="1.40" fill="#111"/><rect x="48.10" y="213.70" width="3.20" height="1.40" fill="#111"/><rect x="56.55" y="244.85" width="1.20" height="3.46" fill="#f06a4a"/><rect x="54.85" y="244.25" width="4.60" height="1.20" fill="#f06a4a"/><rect x="52.50" y="248.31" width="9.30" height="35.29" fill="#ee3a1a"/><rect x="69.85" y="253.50" width="1.20" height="3.11" fill="#f06a4a"/><rect x="68.15" y="252.90" width="4.60" height="1.20" fill="#f06a4a"/><rect x="66.30" y="257.11" width="8.30" height="26.49" fill="url(#chkR)" stroke="#ee3a1a" stroke-width="1.1"/><rect x="86.15" y="224.78" width="1.20" height="12.11" fill="#b06cc6"/><rect x="84.45" y="224.18" width="4.60" height="1.20" fill="#b06cc6"/><rect x="82.10" y="236.89" width="9.30" height="46.71" fill="#9a3cb0"/><rect x="99.35" y="253.50" width="1.20" height="3.11" fill="#b06cc6"/><rect x="97.65" y="252.90" width="4.60" height="1.20" fill="#b06cc6"/><rect x="95.80" y="257.11" width="8.30" height="26.49" fill="url(#chkP)" stroke="#9a3cb0" stroke-width="1.1"/><rect x="126.50" y="211.15" width="1.60" height="73.25" fill="#111"/><rect x="126.50" y="282.80" width="57.50" height="1.60" fill="#111"/><rect x="124.10" y="282.90" width="3.20" height="1.40" fill="#111"/><rect x="124.10" y="258.95" width="3.20" height="1.40" fill="#111"/><rect x="124.10" y="235.00" width="3.20" height="1.40" fill="#111"/><rect x="124.10" y="211.05" width="3.20" height="1.40" fill="#111"/><rect x="134.35" y="232.35" width="1.20" height="2.39" fill="#f06a4a"/><rect x="132.65" y="231.75" width="4.60" height="1.20" fill="#f06a4a"/><rect x="130.30" y="234.74" width="9.30" height="48.86" fill="#ee3a1a"/><rect x="148.15" y="247.20" width="1.20" height="2.87" fill="#f06a4a"/><rect x="146.45" y="246.60" width="4.60" height="1.20" fill="#f06a4a"/><rect x="144.60" y="250.57" width="8.30" height="33.03" fill="url(#chkR)" stroke="#ee3a1a" stroke-width="1.1"/><rect x="163.75" y="221.81" width="1.20" height="5.75" fill="#b06cc6"/><rect x="162.05" y="221.21" width="4.60" height="1.20" fill="#b06cc6"/><rect x="159.70" y="227.56" width="9.30" height="56.04" fill="#9a3cb0"/><rect x="176.75" y="229.47" width="1.20" height="5.27" fill="#b06cc6"/><rect x="175.05" y="228.87" width="4.60" height="1.20" fill="#b06cc6"/><rect x="173.20" y="235.24" width="8.30" height="48.36" fill="url(#chkP)" stroke="#9a3cb0" stroke-width="1.1"/><rect x="207.20" y="211.80" width="1.60" height="72.60" fill="#111"/><rect x="207.20" y="282.80" width="57.60" height="1.60" fill="#111"/><rect x="204.80" y="282.90" width="3.20" height="1.40" fill="#111"/><rect x="204.80" y="265.10" width="3.20" height="1.40" fill="#111"/><rect x="204.80" y="247.30" width="3.20" height="1.40" fill="#111"/><rect x="204.80" y="229.50" width="3.20" height="1.40" fill="#111"/><rect x="204.80" y="211.70" width="3.20" height="1.40" fill="#111"/><rect x="216.05" y="240.17" width="1.20" height="5.34" fill="#f06a4a"/><rect x="214.35" y="239.57" width="4.60" height="1.20" fill="#f06a4a"/><rect x="212.00" y="245.51" width="9.30" height="38.09" fill="#ee3a1a"/><rect x="228.75" y="269.36" width="1.20" height="1.78" fill="#f06a4a"/><rect x="227.05" y="268.76" width="4.60" height="1.20" fill="#f06a4a"/><rect x="225.20" y="271.64" width="8.30" height="11.96" fill="url(#chkR)" stroke="#ee3a1a" stroke-width="1.1"/><rect x="244.25" y="220.23" width="1.20" height="8.19" fill="#b06cc6"/><rect x="242.55" y="219.63" width="4.60" height="1.20" fill="#b06cc6"/><rect x="240.20" y="228.42" width="9.30" height="55.18" fill="#9a3cb0"/><rect x="256.75" y="251.56" width="1.20" height="4.27" fill="#b06cc6"/><rect x="255.05" y="250.96" width="4.60" height="1.20" fill="#b06cc6"/><rect x="253.20" y="256.33" width="8.30" height="27.27" fill="url(#chkP)" stroke="#9a3cb0" stroke-width="1.1"/><rect x="290.40" y="212.00" width="1.60" height="72.40" fill="#111"/><rect x="290.40" y="282.80" width="55.30" height="1.60" fill="#111"/><rect x="288.00" y="282.90" width="3.20" height="1.40" fill="#111"/><rect x="288.00" y="268.70" width="3.20" height="1.40" fill="#111"/><rect x="288.00" y="254.50" width="3.20" height="1.40" fill="#111"/><rect x="288.00" y="240.30" width="3.20" height="1.40" fill="#111"/><rect x="288.00" y="226.10" width="3.20" height="1.40" fill="#111"/><rect x="288.00" y="211.90" width="3.20" height="1.40" fill="#111"/><rect x="297.25" y="251.22" width="1.20" height="3.12" fill="#f06a4a"/><rect x="295.55" y="250.62" width="4.60" height="1.20" fill="#f06a4a"/><rect x="293.20" y="254.35" width="9.30" height="29.25" fill="#ee3a1a"/><rect x="310.75" y="265.14" width="1.20" height="0.85" fill="#f06a4a"/><rect x="309.05" y="264.54" width="4.60" height="1.20" fill="#f06a4a"/><rect x="307.20" y="266.49" width="8.30" height="17.11" fill="url(#chkR)" stroke="#ee3a1a" stroke-width="1.1"/><rect x="326.75" y="223.96" width="1.20" height="19.03" fill="#b06cc6"/><rect x="325.05" y="223.36" width="4.60" height="1.20" fill="#b06cc6"/><rect x="322.70" y="242.99" width="9.30" height="40.61" fill="#9a3cb0"/><rect x="340.15" y="251.22" width="1.20" height="3.98" fill="#b06cc6"/><rect x="338.45" y="250.62" width="4.60" height="1.20" fill="#b06cc6"/><rect x="336.60" y="255.70" width="8.30" height="27.90" fill="url(#chkP)" stroke="#9a3cb0" stroke-width="1.1"/><rect x="369.70" y="212.00" width="1.60" height="72.40" fill="#111"/><rect x="369.70" y="282.80" width="54.30" height="1.60" fill="#111"/><rect x="367.30" y="282.90" width="3.20" height="1.40" fill="#111"/><rect x="367.30" y="268.70" width="3.20" height="1.40" fill="#111"/><rect x="367.30" y="254.50" width="3.20" height="1.40" fill="#111"/><rect x="367.30" y="240.30" width="3.20" height="1.40" fill="#111"/><rect x="367.30" y="226.10" width="3.20" height="1.40" fill="#111"/><rect x="367.30" y="211.90" width="3.20" height="1.40" fill="#111"/><rect x="376.75" y="254.06" width="1.20" height="0.57" fill="#f06a4a"/><rect x="375.05" y="253.46" width="4.60" height="1.20" fill="#f06a4a"/><rect x="372.70" y="254.63" width="9.30" height="28.97" fill="#ee3a1a"/><rect x="389.25" y="275.08" width="1.20" height="0.85" fill="#f06a4a"/><rect x="387.55" y="274.48" width="4.60" height="1.20" fill="#f06a4a"/><rect x="385.70" y="276.43" width="8.30" height="7.17" fill="url(#chkR)" stroke="#ee3a1a" stroke-width="1.1"/><rect x="405.65" y="225.10" width="1.20" height="6.25" fill="#b06cc6"/><rect x="403.95" y="224.50" width="4.60" height="1.20" fill="#b06cc6"/><rect x="401.60" y="231.34" width="9.30" height="52.26" fill="#9a3cb0"/><rect x="418.35" y="229.07" width="1.20" height="14.20" fill="#b06cc6"/><rect x="416.65" y="228.47" width="4.60" height="1.20" fill="#b06cc6"/><rect x="414.80" y="243.77" width="8.30" height="39.83" fill="url(#chkP)" stroke="#9a3cb0" stroke-width="1.1"/><rect x="433.80" y="202.50" width="17.00" height="10.50" fill="#ee3a1a"/><rect x="434.40" y="219.70" width="16.00" height="9.90" fill="url(#chkR2)" stroke="#ee3a1a" stroke-width="1.1"/><rect x="433.80" y="236.20" width="17.00" height="10.00" fill="#9a3cb0"/><rect x="434.40" y="254.00" width="16.00" height="10.00" fill="url(#chkP2)" stroke="#9a3cb0" stroke-width="1.1"/><rect x="152.80" y="559.60" width="20.20" height="16.20" fill="#efbcf8"/><rect x="239.80" y="559.60" width="20.00" height="15.80" fill="#d98ff0"/><rect x="265.30" y="559.60" width="20.00" height="15.80" fill="#b862d2"/><rect x="291.50" y="559.60" width="20.00" height="15.80" fill="#8e2e9e"/><rect x="316.60" y="559.60" width="20.00" height="15.80" fill="#5a2ca0"/><rect x="264.30" y="585.10" width="42.70" height="1.40" fill="#111"/><rect x="37.05" y="597.30" width="1.50" height="91.40" fill="#111"/><rect x="37.10" y="687.25" width="230.90" height="1.50" fill="#111"/><rect x="34.80" y="687.35" width="3.00" height="1.30" fill="#111"/><rect x="34.80" y="669.35" width="3.00" height="1.30" fill="#111"/><rect x="34.80" y="651.35" width="3.00" height="1.30" fill="#111"/><rect x="34.80" y="633.35" width="3.00" height="1.30" fill="#111"/><rect x="34.80" y="615.35" width="3.00" height="1.30" fill="#111"/><rect x="34.80" y="597.35" width="3.00" height="1.30" fill="#111"/><rect x="43.65" y="646.60" width="1.00" height="2.52" fill="#e6dce8"/><rect x="42.35" y="646.10" width="3.60" height="1.00" fill="#e6dce8"/><rect x="40.35" y="649.12" width="7.60" height="38.88" fill="#efbcf8"/><rect x="51.95" y="643.00" width="1.00" height="2.52" fill="#ddd0e2"/><rect x="50.65" y="642.50" width="3.60" height="1.00" fill="#ddd0e2"/><rect x="48.65" y="645.52" width="7.60" height="42.48" fill="#d98ff0"/><rect x="60.25" y="636.88" width="1.00" height="7.20" fill="#d2c4d8"/><rect x="58.95" y="636.38" width="3.60" height="1.00" fill="#d2c4d8"/><rect x="56.95" y="644.08" width="7.60" height="43.92" fill="#b862d2"/><rect x="68.55" y="628.96" width="1.00" height="9.36" fill="#c8b8d0"/><rect x="67.25" y="628.46" width="3.60" height="1.00" fill="#c8b8d0"/><rect x="65.25" y="638.32" width="7.60" height="49.68" fill="#8e2e9e"/><rect x="76.85" y="635.08" width="1.00" height="5.40" fill="#c0b4d0"/><rect x="75.55" y="634.58" width="3.60" height="1.00" fill="#c0b4d0"/><rect x="73.55" y="640.48" width="7.60" height="47.52" fill="#5a2ca0"/><rect x="89.90" y="645.52" width="1.00" height="5.76" fill="#e6dce8"/><rect x="88.60" y="645.02" width="3.60" height="1.00" fill="#e6dce8"/><rect x="86.60" y="651.28" width="7.60" height="36.72" fill="#efbcf8"/><rect x="98.20" y="642.64" width="1.00" height="1.44" fill="#ddd0e2"/><rect x="96.90" y="642.14" width="3.60" height="1.00" fill="#ddd0e2"/><rect x="94.90" y="644.08" width="7.60" height="43.92" fill="#d98ff0"/><rect x="106.50" y="622.48" width="1.00" height="5.40" fill="#d2c4d8"/><rect x="105.20" y="621.98" width="3.60" height="1.00" fill="#d2c4d8"/><rect x="103.20" y="627.88" width="7.60" height="60.12" fill="#b862d2"/><rect x="114.80" y="617.08" width="1.00" height="7.20" fill="#c8b8d0"/><rect x="113.50" y="616.58" width="3.60" height="1.00" fill="#c8b8d0"/><rect x="111.50" y="624.28" width="7.60" height="63.72" fill="#8e2e9e"/><rect x="123.10" y="618.52" width="1.00" height="7.20" fill="#c0b4d0"/><rect x="121.80" y="618.02" width="3.60" height="1.00" fill="#c0b4d0"/><rect x="119.80" y="625.72" width="7.60" height="62.28" fill="#5a2ca0"/><rect x="136.15" y="649.12" width="1.00" height="2.16" fill="#e6dce8"/><rect x="134.85" y="648.62" width="3.60" height="1.00" fill="#e6dce8"/><rect x="132.85" y="651.28" width="7.60" height="36.72" fill="#efbcf8"/><rect x="144.45" y="634.00" width="1.00" height="2.52" fill="#ddd0e2"/><rect x="143.15" y="633.50" width="3.60" height="1.00" fill="#ddd0e2"/><rect x="141.15" y="636.52" width="7.60" height="51.48" fill="#d98ff0"/><rect x="152.75" y="620.32" width="1.00" height="8.28" fill="#d2c4d8"/><rect x="151.45" y="619.82" width="3.60" height="1.00" fill="#d2c4d8"/><rect x="149.45" y="628.60" width="7.60" height="59.40" fill="#b862d2"/><rect x="161.05" y="614.20" width="1.00" height="2.88" fill="#c8b8d0"/><rect x="159.75" y="613.70" width="3.60" height="1.00" fill="#c8b8d0"/><rect x="157.75" y="617.08" width="7.60" height="70.92" fill="#8e2e9e"/><rect x="169.35" y="615.64" width="1.00" height="5.04" fill="#c0b4d0"/><rect x="168.05" y="615.14" width="3.60" height="1.00" fill="#c0b4d0"/><rect x="166.05" y="620.68" width="7.60" height="67.32" fill="#5a2ca0"/><rect x="182.40" y="649.84" width="1.00" height="1.44" fill="#e6dce8"/><rect x="181.10" y="649.34" width="3.60" height="1.00" fill="#e6dce8"/><rect x="179.10" y="651.28" width="7.60" height="36.72" fill="#efbcf8"/><rect x="190.70" y="630.40" width="1.00" height="2.88" fill="#ddd0e2"/><rect x="189.40" y="629.90" width="3.60" height="1.00" fill="#ddd0e2"/><rect x="187.40" y="633.28" width="7.60" height="54.72" fill="#d98ff0"/><rect x="199.00" y="617.80" width="1.00" height="1.80" fill="#d2c4d8"/><rect x="197.70" y="617.30" width="3.60" height="1.00" fill="#d2c4d8"/><rect x="195.70" y="619.60" width="7.60" height="68.40" fill="#b862d2"/><rect x="207.30" y="621.40" width="1.00" height="4.32" fill="#c8b8d0"/><rect x="206.00" y="620.90" width="3.60" height="1.00" fill="#c8b8d0"/><rect x="204.00" y="625.72" width="7.60" height="62.28" fill="#8e2e9e"/><rect x="215.60" y="611.68" width="1.00" height="5.40" fill="#c0b4d0"/><rect x="214.30" y="611.18" width="3.60" height="1.00" fill="#c0b4d0"/><rect x="212.30" y="617.08" width="7.60" height="70.92" fill="#5a2ca0"/><rect x="228.65" y="648.40" width="1.00" height="2.88" fill="#e6dce8"/><rect x="227.35" y="647.90" width="3.60" height="1.00" fill="#e6dce8"/><rect x="225.35" y="651.28" width="7.60" height="36.72" fill="#efbcf8"/><rect x="236.95" y="650.56" width="1.00" height="2.16" fill="#ddd0e2"/><rect x="235.65" y="650.06" width="3.60" height="1.00" fill="#ddd0e2"/><rect x="233.65" y="652.72" width="7.60" height="35.28" fill="#d98ff0"/><rect x="245.25" y="631.12" width="1.00" height="8.28" fill="#d2c4d8"/><rect x="243.95" y="630.62" width="3.60" height="1.00" fill="#d2c4d8"/><rect x="241.95" y="639.40" width="7.60" height="48.60" fill="#b862d2"/><rect x="253.55" y="640.48" width="1.00" height="2.52" fill="#c8b8d0"/><rect x="252.25" y="639.98" width="3.60" height="1.00" fill="#c8b8d0"/><rect x="250.25" y="643.00" width="7.60" height="45.00" fill="#8e2e9e"/><rect x="261.85" y="645.52" width="1.00" height="11.88" fill="#c0b4d0"/><rect x="260.55" y="645.02" width="3.60" height="1.00" fill="#c0b4d0"/><rect x="258.55" y="657.40" width="7.60" height="30.60" fill="#5a2ca0"/><rect x="288.95" y="643.80" width="1.50" height="44.50" fill="#111"/><rect x="289.00" y="686.85" width="225.60" height="1.50" fill="#111"/><rect x="288.95" y="625.00" width="1.50" height="10.50" fill="#111"/><rect x="288.95" y="597.50" width="1.50" height="19.00" fill="#111"/><rect x="286.70" y="686.95" width="3.00" height="1.30" fill="#111"/><rect x="286.70" y="665.05" width="3.00" height="1.30" fill="#111"/><rect x="286.70" y="643.15" width="3.00" height="1.30" fill="#111"/><rect x="286.70" y="624.85" width="3.00" height="1.30" fill="#111"/><rect x="286.70" y="633.85" width="3.00" height="1.30" fill="#111"/><rect x="286.70" y="597.15" width="3.00" height="1.30" fill="#111"/><rect x="286.70" y="607.35" width="3.00" height="1.30" fill="#111"/><rect x="289.70" y="615.65" width="2.50" height="1.30" fill="#111"/><rect x="289.70" y="634.65" width="2.50" height="1.30" fill="#111"/><rect x="289.70" y="624.65" width="2.50" height="1.30" fill="#111"/><rect x="289.70" y="643.15" width="2.50" height="1.30" fill="#111"/><rect x="296.05" y="676.10" width="1.00" height="0.55" fill="#e6dce8"/><rect x="294.75" y="675.60" width="3.60" height="1.00" fill="#e6dce8"/><rect x="292.85" y="676.65" width="7.40" height="10.95" fill="#efbcf8"/><rect x="304.15" y="673.91" width="1.00" height="0.55" fill="#ddd0e2"/><rect x="302.85" y="673.41" width="3.60" height="1.00" fill="#ddd0e2"/><rect x="300.95" y="674.46" width="7.40" height="13.14" fill="#d98ff0"/><rect x="312.25" y="668.44" width="1.00" height="2.19" fill="#d2c4d8"/><rect x="310.95" y="667.94" width="3.60" height="1.00" fill="#d2c4d8"/><rect x="309.05" y="670.63" width="7.40" height="16.97" fill="#b862d2"/><rect x="320.35" y="663.51" width="1.00" height="1.64" fill="#c8b8d0"/><rect x="319.05" y="663.01" width="3.60" height="1.00" fill="#c8b8d0"/><rect x="317.15" y="665.15" width="7.40" height="22.45" fill="#8e2e9e"/><rect x="325.25" y="643.80" width="7.40" height="43.80" fill="#5a2ca0"/><rect x="341.05" y="676.10" width="1.00" height="0.55" fill="#e6dce8"/><rect x="339.75" y="675.60" width="3.60" height="1.00" fill="#e6dce8"/><rect x="337.85" y="676.65" width="7.40" height="10.95" fill="#efbcf8"/><rect x="349.15" y="673.91" width="1.00" height="0.55" fill="#ddd0e2"/><rect x="347.85" y="673.41" width="3.60" height="1.00" fill="#ddd0e2"/><rect x="345.95" y="674.46" width="7.40" height="13.14" fill="#d98ff0"/><rect x="357.25" y="672.27" width="1.00" height="0.55" fill="#d2c4d8"/><rect x="355.95" y="671.77" width="3.60" height="1.00" fill="#d2c4d8"/><rect x="354.05" y="672.82" width="7.40" height="14.78" fill="#b862d2"/><rect x="365.35" y="663.51" width="1.00" height="3.29" fill="#c8b8d0"/><rect x="364.05" y="663.01" width="3.60" height="1.00" fill="#c8b8d0"/><rect x="362.15" y="666.80" width="7.40" height="20.80" fill="#8e2e9e"/><rect x="373.45" y="652.56" width="1.00" height="3.83" fill="#c0b4d0"/><rect x="372.15" y="652.06" width="3.60" height="1.00" fill="#c0b4d0"/><rect x="370.25" y="656.39" width="7.40" height="31.21" fill="#5a2ca0"/><rect x="386.05" y="675.01" width="1.00" height="0.55" fill="#e6dce8"/><rect x="384.75" y="674.51" width="3.60" height="1.00" fill="#e6dce8"/><rect x="382.85" y="675.56" width="7.40" height="12.04" fill="#efbcf8"/><rect x="394.15" y="662.96" width="1.00" height="0.55" fill="#ddd0e2"/><rect x="392.85" y="662.46" width="3.60" height="1.00" fill="#ddd0e2"/><rect x="390.95" y="663.51" width="7.40" height="24.09" fill="#d98ff0"/><rect x="402.25" y="665.70" width="1.00" height="1.10" fill="#d2c4d8"/><rect x="400.95" y="665.20" width="3.60" height="1.00" fill="#d2c4d8"/><rect x="399.05" y="666.80" width="7.40" height="20.80" fill="#b862d2"/><rect x="410.35" y="672.27" width="1.00" height="1.10" fill="#c8b8d0"/><rect x="409.05" y="671.77" width="3.60" height="1.00" fill="#c8b8d0"/><rect x="407.15" y="673.37" width="7.40" height="14.24" fill="#8e2e9e"/><rect x="418.45" y="671.18" width="1.00" height="1.09" fill="#c0b4d0"/><rect x="417.15" y="670.68" width="3.60" height="1.00" fill="#c0b4d0"/><rect x="415.25" y="672.27" width="7.40" height="15.33" fill="#5a2ca0"/><rect x="431.05" y="676.10" width="1.00" height="0.55" fill="#e6dce8"/><rect x="429.75" y="675.60" width="3.60" height="1.00" fill="#e6dce8"/><rect x="427.85" y="676.65" width="7.40" height="10.95" fill="#efbcf8"/><rect x="439.15" y="666.80" width="1.00" height="1.09" fill="#ddd0e2"/><rect x="437.85" y="666.30" width="3.60" height="1.00" fill="#ddd0e2"/><rect x="435.95" y="667.89" width="7.40" height="19.71" fill="#d98ff0"/><rect x="447.25" y="667.34" width="1.00" height="2.74" fill="#d2c4d8"/><rect x="445.95" y="666.84" width="3.60" height="1.00" fill="#d2c4d8"/><rect x="444.05" y="670.08" width="7.40" height="17.52" fill="#b862d2"/><rect x="455.35" y="666.80" width="1.00" height="1.09" fill="#c8b8d0"/><rect x="454.05" y="666.30" width="3.60" height="1.00" fill="#c8b8d0"/><rect x="452.15" y="667.89" width="7.40" height="19.71" fill="#8e2e9e"/><rect x="463.45" y="651.47" width="1.00" height="7.12" fill="#c0b4d0"/><rect x="462.15" y="650.97" width="3.60" height="1.00" fill="#c0b4d0"/><rect x="460.25" y="658.58" width="7.40" height="29.02" fill="#5a2ca0"/><rect x="476.05" y="676.10" width="1.00" height="0.55" fill="#e6dce8"/><rect x="474.75" y="675.60" width="3.60" height="1.00" fill="#e6dce8"/><rect x="472.85" y="676.65" width="7.40" height="10.95" fill="#efbcf8"/><rect x="484.15" y="661.32" width="1.00" height="8.76" fill="#ddd0e2"/><rect x="482.85" y="660.82" width="3.60" height="1.00" fill="#ddd0e2"/><rect x="480.95" y="670.08" width="7.40" height="17.52" fill="#d98ff0"/><rect x="489.05" y="643.80" width="7.40" height="43.80" fill="#b862d2"/><rect x="497.15" y="643.80" width="7.40" height="43.80" fill="#8e2e9e"/><rect x="505.25" y="643.80" width="7.40" height="43.80" fill="#5a2ca0"/><rect x="325.25" y="630.00" width="7.40" height="5.50" fill="#5a2ca0"/><rect x="489.05" y="625.60" width="7.40" height="9.60" fill="#b862d2"/><rect x="497.15" y="625.60" width="7.40" height="9.60" fill="#8e2e9e"/><rect x="505.25" y="625.60" width="7.40" height="9.60" fill="#5a2ca0"/><rect x="489.05" y="613.50" width="7.40" height="2.50" fill="#b862d2"/><rect x="497.15" y="605.40" width="7.40" height="10.60" fill="#8e2e9e"/><rect x="505.25" y="600.60" width="7.40" height="15.40" fill="#5a2ca0"/><polygon points="204.25,90.30 204.90,91.61 206.34,91.82 205.30,92.84 205.54,94.28 204.25,93.60 202.96,94.28 203.20,92.84 202.16,91.82 203.60,91.61" fill="#111"/><polygon points="208.55,89.64 209.20,90.95 210.64,91.16 209.60,92.18 209.84,93.62 208.55,92.94 207.26,93.62 207.50,92.18 206.46,91.16 207.90,90.95" fill="#111"/><polygon points="222.30,91.63 222.95,92.94 224.39,93.15 223.35,94.17 223.59,95.61 222.30,94.93 221.01,95.61 221.25,94.17 220.21,93.15 221.65,92.94" fill="#111"/><polygon points="254.10,90.64 254.75,91.95 256.19,92.16 255.15,93.18 255.39,94.62 254.10,93.94 252.81,94.62 253.05,93.18 252.01,92.16 253.45,91.95" fill="#111"/><polygon points="258.40,95.71 259.05,97.02 260.49,97.23 259.45,98.25 259.69,99.69 258.40,99.01 257.11,99.69 257.35,98.25 256.31,97.23 257.75,97.02" fill="#111"/><polygon points="262.70,91.42 263.35,92.73 264.79,92.94 263.75,93.96 263.99,95.40 262.70,94.72 261.41,95.40 261.65,93.96 260.61,92.94 262.05,92.73" fill="#111"/><polygon points="276.45,90.30 277.10,91.61 278.54,91.82 277.50,92.84 277.74,94.28 276.45,93.60 275.16,94.28 275.40,92.84 274.36,91.82 275.80,91.61" fill="#111"/><polygon points="290.20,87.64 290.85,88.95 292.29,89.16 291.25,90.18 291.49,91.62 290.20,90.94 288.91,91.62 289.15,90.18 288.11,89.16 289.55,88.95" fill="#111"/><polygon points="294.50,95.62 295.15,96.93 296.59,97.14 295.55,98.16 295.79,99.60 294.50,98.92 293.21,99.60 293.45,98.16 292.41,97.14 293.85,96.93" fill="#111"/><polygon points="298.80,94.29 299.45,95.60 300.89,95.81 299.85,96.83 300.09,98.27 298.80,97.59 297.51,98.27 297.75,96.83 296.71,95.81 298.15,95.60" fill="#111"/><polygon points="308.25,84.98 308.90,86.30 310.34,86.51 309.30,87.52 309.54,88.96 308.25,88.28 306.96,88.96 307.20,87.52 306.16,86.51 307.60,86.30" fill="#111"/><polygon points="312.55,91.63 313.20,92.94 314.64,93.15 313.60,94.17 313.84,95.61 312.55,94.93 311.26,95.61 311.50,94.17 310.46,93.15 311.90,92.94" fill="#111"/><polygon points="316.85,91.63 317.50,92.94 318.94,93.15 317.90,94.17 318.14,95.61 316.85,94.93 315.56,95.61 315.80,94.17 314.76,93.15 316.20,92.94" fill="#111"/><polygon points="344.35,90.08 345.00,91.39 346.44,91.60 345.40,92.62 345.64,94.06 344.35,93.38 343.06,94.06 343.30,92.62 342.26,91.60 343.70,91.39" fill="#111"/><polygon points="348.65,78.25 349.30,79.56 350.74,79.77 349.70,80.79 349.94,82.23 348.65,81.55 347.36,82.23 347.60,80.79 346.56,79.77 348.00,79.56" fill="#111"/><polygon points="352.95,92.85 353.60,94.16 355.04,94.37 354.00,95.39 354.24,96.83 352.95,96.15 351.66,96.83 351.90,95.39 350.86,94.37 352.30,94.16" fill="#111"/><polygon points="380.45,85.96 381.10,87.27 382.54,87.48 381.50,88.50 381.74,89.94 380.45,89.26 379.16,89.94 379.40,88.50 378.36,87.48 379.80,87.27" fill="#111"/><polygon points="389.05,58.40 389.70,59.71 391.14,59.92 390.10,60.94 390.34,62.38 389.05,61.70 387.76,62.38 388.00,60.94 386.96,59.92 388.40,59.71" fill="#111"/><polygon points="398.50,87.39 399.15,88.70 400.59,88.91 399.55,89.93 399.79,91.37 398.50,90.69 397.21,91.37 397.45,89.93 396.41,88.91 397.85,88.70" fill="#111"/><polygon points="402.80,90.51 403.45,91.82 404.89,92.03 403.85,93.05 404.09,94.49 402.80,93.81 401.51,94.49 401.75,93.05 400.71,92.03 402.15,91.82" fill="#111"/><polygon points="425.15,62.04 425.80,63.35 427.24,63.56 426.20,64.58 426.44,66.02 425.15,65.34 423.86,66.02 424.10,64.58 423.06,63.56 424.50,63.35" fill="#111"/><polygon points="443.20,64.70 443.85,66.01 445.29,66.22 444.25,67.24 444.49,68.68 443.20,68.00 441.91,68.68 442.15,67.24 441.11,66.22 442.55,66.01" fill="#111"/><polygon points="479.30,59.11 479.95,60.42 481.39,60.63 480.35,61.65 480.59,63.09 479.30,62.41 478.01,63.09 478.25,61.65 477.21,60.63 478.65,60.42" fill="#111"/><polygon points="506.80,27.30 507.45,28.61 508.89,28.82 507.85,29.84 508.09,31.28 506.80,30.60 505.51,31.28 505.75,29.84 504.71,28.82 506.15,28.61" fill="#111"/><polygon points="511.10,27.30 511.75,28.61 513.19,28.82 512.15,29.84 512.39,31.28 511.10,30.60 509.81,31.28 510.05,29.84 509.01,28.82 510.45,28.61" fill="#111"/><polygon points="515.40,12.30 516.05,13.61 517.49,13.82 516.45,14.84 516.69,16.28 515.40,15.60 514.11,16.28 514.35,14.84 513.31,13.82 514.75,13.61" fill="#111"/><polygon points="66.65,238.60 67.65,240.62 69.88,240.95 68.27,242.53 68.65,244.75 66.65,243.70 64.65,244.75 65.03,242.53 63.42,240.95 65.65,240.62" fill="#111"/><polygon points="74.25,238.60 75.25,240.62 77.48,240.95 75.87,242.53 76.25,244.75 74.25,243.70 72.25,244.75 72.63,242.53 71.02,240.95 73.25,240.62" fill="#111"/><polygon points="70.45,245.90 71.45,247.92 73.68,248.25 72.07,249.83 72.45,252.05 70.45,251.00 68.45,252.05 68.83,249.83 67.22,248.25 69.45,247.92" fill="#111"/><polygon points="96.15,238.60 97.15,240.62 99.38,240.95 97.77,242.53 98.15,244.75 96.15,243.70 94.15,244.75 94.53,242.53 92.92,240.95 95.15,240.62" fill="#111"/><polygon points="103.75,238.60 104.75,240.62 106.98,240.95 105.37,242.53 105.75,244.75 103.75,243.70 101.75,244.75 102.13,242.53 100.52,240.95 102.75,240.62" fill="#111"/><polygon points="99.95,245.90 100.95,247.92 103.18,248.25 101.57,249.83 101.95,252.05 99.95,251.00 97.95,252.05 98.33,249.83 96.72,248.25 98.95,247.92" fill="#111"/><polygon points="144.95,233.30 145.95,235.32 148.18,235.65 146.57,237.23 146.95,239.45 144.95,238.40 142.95,239.45 143.33,237.23 141.72,235.65 143.95,235.32" fill="#111"/><polygon points="152.55,233.30 153.55,235.32 155.78,235.65 154.17,237.23 154.55,239.45 152.55,238.40 150.55,239.45 150.93,237.23 149.32,235.65 151.55,235.32" fill="#111"/><polygon points="148.75,239.90 149.75,241.92 151.98,242.25 150.37,243.83 150.75,246.05 148.75,245.00 146.75,246.05 147.13,243.83 145.52,242.25 147.75,241.92" fill="#111"/><polygon points="225.55,256.10 226.55,258.12 228.78,258.45 227.17,260.03 227.55,262.25 225.55,261.20 223.55,262.25 223.93,260.03 222.32,258.45 224.55,258.12" fill="#111"/><polygon points="233.15,256.10 234.15,258.12 236.38,258.45 234.77,260.03 235.15,262.25 233.15,261.20 231.15,262.25 231.53,260.03 229.92,258.45 232.15,258.12" fill="#111"/><polygon points="229.35,261.40 230.35,263.42 232.58,263.75 230.97,265.33 231.35,267.55 229.35,266.50 227.35,267.55 227.73,265.33 226.12,263.75 228.35,263.42" fill="#111"/><polygon points="244.85,212.40 245.85,214.42 248.08,214.75 246.47,216.33 246.85,218.55 244.85,217.50 242.85,218.55 243.23,216.33 241.62,214.75 243.85,214.42" fill="#111"/><polygon points="253.55,244.10 254.55,246.12 256.78,246.45 255.17,248.03 255.55,250.25 253.55,249.20 251.55,250.25 251.93,248.03 250.32,246.45 252.55,246.12" fill="#111"/><polygon points="261.15,244.10 262.15,246.12 264.38,246.45 262.77,248.03 263.15,250.25 261.15,249.20 259.15,250.25 259.53,248.03 257.92,246.45 260.15,246.12" fill="#111"/><polygon points="311.35,257.80 312.35,259.82 314.58,260.15 312.97,261.73 313.35,263.95 311.35,262.90 309.35,263.95 309.73,261.73 308.12,260.15 310.35,259.82" fill="#111"/><polygon points="386.05,261.50 387.05,263.52 389.28,263.85 387.67,265.43 388.05,267.65 386.05,266.60 384.05,267.65 384.43,265.43 382.82,263.85 385.05,263.52" fill="#111"/><polygon points="393.65,261.50 394.65,263.52 396.88,263.85 395.27,265.43 395.65,267.65 393.65,266.60 391.65,267.65 392.03,265.43 390.42,263.85 392.65,263.52" fill="#111"/><polygon points="389.85,268.10 390.85,270.12 393.08,270.45 391.47,272.03 391.85,274.25 389.85,273.20 387.85,274.25 388.23,272.03 386.62,270.45 388.85,270.12" fill="#111"/><polygon points="406.25,218.00 407.25,220.02 409.48,220.35 407.87,221.93 408.25,224.15 406.25,223.10 404.25,224.15 404.63,221.93 403.02,220.35 405.25,220.02" fill="#111"/><polygon points="107.00,614.78 107.94,616.69 110.04,616.99 108.52,618.47 108.88,620.57 107.00,619.58 105.12,620.57 105.48,618.47 103.96,616.99 106.06,616.69" fill="#111"/><polygon points="115.30,609.38 116.24,611.29 118.34,611.59 116.82,613.07 117.18,615.17 115.30,614.18 113.42,615.17 113.78,613.07 112.26,611.59 114.36,611.29" fill="#111"/><polygon points="123.60,610.82 124.54,612.73 126.64,613.03 125.12,614.51 125.48,616.61 123.60,615.62 121.72,616.61 122.08,614.51 120.56,613.03 122.66,612.73" fill="#111"/><polygon points="144.95,626.30 145.89,628.21 147.99,628.51 146.47,629.99 146.83,632.09 144.95,631.10 143.07,632.09 143.43,629.99 141.91,628.51 144.01,628.21" fill="#111"/><polygon points="153.25,612.62 154.19,614.53 156.29,614.83 154.77,616.31 155.13,618.41 153.25,617.42 151.37,618.41 151.73,616.31 150.21,614.83 152.31,614.53" fill="#111"/><polygon points="161.55,606.50 162.49,608.41 164.59,608.71 163.07,610.19 163.43,612.29 161.55,611.30 159.67,612.29 160.03,610.19 158.51,608.71 160.61,608.41" fill="#111"/><polygon points="169.85,607.94 170.79,609.85 172.89,610.15 171.37,611.63 171.73,613.73 169.85,612.74 167.97,613.73 168.33,611.63 166.81,610.15 168.91,609.85" fill="#111"/><polygon points="191.20,622.70 192.14,624.61 194.24,624.91 192.72,626.39 193.08,628.49 191.20,627.50 189.32,628.49 189.68,626.39 188.16,624.91 190.26,624.61" fill="#111"/><polygon points="199.50,610.10 200.44,612.01 202.54,612.31 201.02,613.79 201.38,615.89 199.50,614.90 197.62,615.89 197.98,613.79 196.46,612.31 198.56,612.01" fill="#111"/><polygon points="207.80,613.70 208.74,615.61 210.84,615.91 209.32,617.39 209.68,619.49 207.80,618.50 205.92,619.49 206.28,617.39 204.76,615.91 206.86,615.61" fill="#111"/><polygon points="216.10,603.98 217.04,605.89 219.14,606.19 217.62,607.67 217.98,609.77 216.10,608.78 214.22,609.77 214.58,607.67 213.06,606.19 215.16,605.89" fill="#111"/><polygon points="320.85,655.81 321.79,657.72 323.89,658.02 322.37,659.50 322.73,661.60 320.85,660.61 318.97,661.60 319.33,659.50 317.81,658.02 319.91,657.72" fill="#111"/><polygon points="365.85,655.81 366.79,657.72 368.89,658.02 367.37,659.50 367.73,661.60 365.85,660.61 363.97,661.60 364.33,659.50 362.81,658.02 364.91,657.72" fill="#111"/><polygon points="373.95,644.86 374.89,646.77 376.99,647.07 375.47,648.55 375.83,650.65 373.95,649.66 372.07,650.65 372.43,648.55 370.91,647.07 373.01,646.77" fill="#111"/><polygon points="394.65,655.26 395.59,657.17 397.69,657.47 396.17,658.96 396.53,661.05 394.65,660.06 392.77,661.05 393.13,658.96 391.61,657.47 393.71,657.17" fill="#111"/><polygon points="402.75,658.00 403.69,659.91 405.79,660.21 404.27,661.69 404.63,663.79 402.75,662.80 400.87,663.79 401.23,661.69 399.71,660.21 401.81,659.91" fill="#111"/><polygon points="410.85,664.57 411.79,666.48 413.89,666.78 412.37,668.26 412.73,670.36 410.85,669.37 408.97,670.36 409.33,668.26 407.81,666.78 409.91,666.48" fill="#111"/><polygon points="418.95,663.48 419.89,665.38 421.99,665.69 420.47,667.17 420.83,669.26 418.95,668.28 417.07,669.26 417.43,667.17 415.91,665.69 418.01,665.38" fill="#111"/><polygon points="439.65,659.10 440.59,661.00 442.69,661.31 441.17,662.79 441.53,664.88 439.65,663.90 437.77,664.88 438.13,662.79 436.61,661.31 438.71,661.00" fill="#111"/><polygon points="455.85,659.10 456.79,661.00 458.89,661.31 457.37,662.79 457.73,664.88 455.85,663.90 453.97,664.88 454.33,662.79 452.81,661.31 454.91,661.00" fill="#111"/><polygon points="463.95,643.76 464.89,645.67 466.99,645.98 465.47,647.46 465.83,649.55 463.95,648.57 462.07,649.55 462.43,647.46 460.91,645.98 463.01,645.67" fill="#111"/><polygon points="328.95,619.30 329.89,621.21 331.99,621.51 330.47,622.99 330.83,625.09 328.95,624.10 327.07,625.09 327.43,622.99 325.91,621.51 328.01,621.21" fill="#111"/><polygon points="492.75,605.80 493.69,607.71 495.79,608.01 494.27,609.49 494.63,611.59 492.75,610.60 490.87,611.59 491.23,609.49 489.71,608.01 491.81,607.71" fill="#111"/><polygon points="500.85,596.40 501.79,598.31 503.89,598.61 502.37,600.09 502.73,602.19 500.85,601.20 498.97,602.19 499.33,600.09 497.81,598.61 499.91,598.31" fill="#111"/><polygon points="508.95,590.80 509.89,592.71 511.99,593.01 510.47,594.49 510.83,596.59 508.95,595.60 507.07,596.59 507.43,594.49 505.91,593.01 508.01,592.71" fill="#111"/></svg>
</div></body></html>
